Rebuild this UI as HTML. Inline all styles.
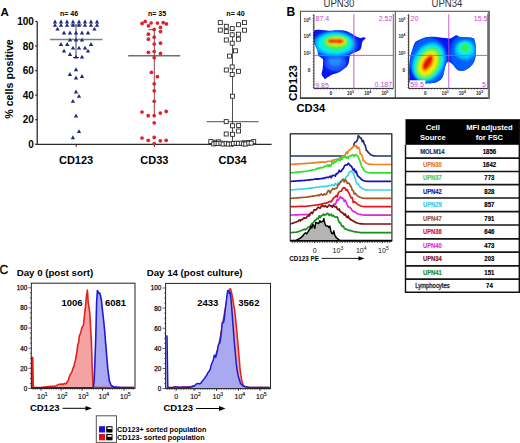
<!DOCTYPE html>
<html><head><meta charset="utf-8"><style>
html,body{margin:0;padding:0;background:#fff;overflow:hidden;}
svg{display:block;}
text{font-family:"Liberation Sans",sans-serif;}
.b{font-weight:bold;}
.r{font-weight:normal;}
</style></head><body>
<svg width="520" height="443" viewBox="0 0 520 443">
<defs><filter id="bl" x="-20%" y="-20%" width="140%" height="140%"><feGaussianBlur stdDeviation="1.0"/></filter></defs>
<rect width="520" height="443" fill="#fff"/>
<text x="0.4" y="15.7" class="b" font-size="11.6">A</text>
<line x1="37.2" y1="21.4" x2="37.2" y2="144.9" stroke="#2a2a2a" stroke-width="1.3"/>
<line x1="36.6" y1="144.3" x2="271.6" y2="144.3" stroke="#2a2a2a" stroke-width="1.3"/>
<line x1="35.2" y1="144.3" x2="37.2" y2="144.3" stroke="#2a2a2a" stroke-width="1.2"/>
<text x="33.9" y="147.9" class="b" font-size="10" text-anchor="end">0</text>
<line x1="35.2" y1="119.72" x2="37.2" y2="119.72" stroke="#2a2a2a" stroke-width="1.2"/>
<text x="33.9" y="123.32" class="b" font-size="10" text-anchor="end">20</text>
<line x1="35.2" y1="95.14" x2="37.2" y2="95.14" stroke="#2a2a2a" stroke-width="1.2"/>
<text x="33.9" y="98.74" class="b" font-size="10" text-anchor="end">40</text>
<line x1="35.2" y1="70.56" x2="37.2" y2="70.56" stroke="#2a2a2a" stroke-width="1.2"/>
<text x="33.9" y="74.16" class="b" font-size="10" text-anchor="end">60</text>
<line x1="35.2" y1="45.98" x2="37.2" y2="45.98" stroke="#2a2a2a" stroke-width="1.2"/>
<text x="33.9" y="49.58" class="b" font-size="10" text-anchor="end">80</text>
<line x1="35.2" y1="21.4" x2="37.2" y2="21.4" stroke="#2a2a2a" stroke-width="1.2"/>
<text x="33.9" y="25" class="b" font-size="10" text-anchor="end">100</text>
<text transform="translate(12.8,79) rotate(-90)" class="b" font-size="10.7" text-anchor="middle">% cells positive</text>
<line x1="76.2" y1="144.3" x2="76.2" y2="146.8" stroke="#2a2a2a" stroke-width="1.1"/>
<line x1="154.4" y1="144.3" x2="154.4" y2="146.8" stroke="#2a2a2a" stroke-width="1.1"/>
<line x1="232.5" y1="144.3" x2="232.5" y2="146.8" stroke="#2a2a2a" stroke-width="1.1"/>
<text x="76.1" y="163.8" class="b" font-size="11" text-anchor="middle">CD123</text>
<text x="154.4" y="163.8" class="b" font-size="11" text-anchor="middle">CD33</text>
<text x="232.6" y="163.8" class="b" font-size="11" text-anchor="middle">CD34</text>
<text x="59.9" y="16.4" class="b" font-size="7.1">n= 46</text>
<text x="147.9" y="16.4" class="b" font-size="7.1">n= 35</text>
<text x="226.3" y="16.4" class="b" font-size="7.1">n= 40</text>
<line x1="50" y1="39.5" x2="102.5" y2="39.5" stroke="#808080" stroke-width="1.4"/>
<line x1="128.2" y1="55.8" x2="180.3" y2="55.8" stroke="#707070" stroke-width="1.4"/>
<line x1="206.7" y1="121.6" x2="258.5" y2="121.6" stroke="#707070" stroke-width="1.4"/>
<path d="M76 25V57.5M70.5 25H82M73 57.5H79" stroke="#1c2a78" stroke-width="0.9" fill="none"/>
<path d="M154.3 29.7V115.7M148.5 29.7H155" stroke="#8a3030" stroke-width="0.9" fill="none"/>
<path d="M232.5 32V144" stroke="#222" stroke-width="0.8" fill="none"/>
<path d="M55 19.6L57.15 23.5L52.85 23.5Z" fill="#1c2a78"/>
<path d="M61 19.6L63.15 23.5L58.85 23.5Z" fill="#1c2a78"/>
<path d="M67 19.6L69.15 23.5L64.85 23.5Z" fill="#1c2a78"/>
<path d="M73 19.6L75.15 23.5L70.85 23.5Z" fill="#1c2a78"/>
<path d="M79 19.6L81.15 23.5L76.85 23.5Z" fill="#1c2a78"/>
<path d="M85 19.6L87.15 23.5L82.85 23.5Z" fill="#1c2a78"/>
<path d="M91 19.6L93.15 23.5L88.85 23.5Z" fill="#1c2a78"/>
<path d="M97 19.6L99.15 23.5L94.85 23.5Z" fill="#1c2a78"/>
<path d="M55 22.9L57.15 26.8L52.85 26.8Z" fill="#1c2a78"/>
<path d="M61 22.9L63.15 26.8L58.85 26.8Z" fill="#1c2a78"/>
<path d="M67 22.9L69.15 26.8L64.85 26.8Z" fill="#1c2a78"/>
<path d="M73 22.9L75.15 26.8L70.85 26.8Z" fill="#1c2a78"/>
<path d="M79 22.9L81.15 26.8L76.85 26.8Z" fill="#1c2a78"/>
<path d="M85 22.9L87.15 26.8L82.85 26.8Z" fill="#1c2a78"/>
<path d="M91 22.9L93.15 26.8L88.85 26.8Z" fill="#1c2a78"/>
<path d="M97 22.9L99.15 26.8L94.85 26.8Z" fill="#1c2a78"/>
<path d="M57.5 26.7L59.65 30.6L55.35 30.6Z" fill="#1c2a78"/>
<path d="M94.4 26.7L96.55 30.6L92.25 30.6Z" fill="#1c2a78"/>
<path d="M64 30.6L66.15 34.5L61.85 34.5Z" fill="#1c2a78"/>
<path d="M70 30.6L72.15 34.5L67.85 34.5Z" fill="#1c2a78"/>
<path d="M76 30.6L78.15 34.5L73.85 34.5Z" fill="#1c2a78"/>
<path d="M82 30.6L84.15 34.5L79.85 34.5Z" fill="#1c2a78"/>
<path d="M88 30.6L90.15 34.5L85.85 34.5Z" fill="#1c2a78"/>
<path d="M70 37.7L72.15 41.6L67.85 41.6Z" fill="#1c2a78"/>
<path d="M76 37.7L78.15 41.6L73.85 41.6Z" fill="#1c2a78"/>
<path d="M82 37.7L84.15 41.6L79.85 41.6Z" fill="#1c2a78"/>
<path d="M61 42.1L63.15 46L58.85 46Z" fill="#1c2a78"/>
<path d="M67.2 42.1L69.35 46L65.05 46Z" fill="#1c2a78"/>
<path d="M91 42.1L93.15 46L88.85 46Z" fill="#1c2a78"/>
<path d="M73 45.7L75.15 49.6L70.85 49.6Z" fill="#1c2a78"/>
<path d="M79 45.7L81.15 49.6L76.85 49.6Z" fill="#1c2a78"/>
<path d="M85 45.7L87.15 49.6L82.85 49.6Z" fill="#1c2a78"/>
<path d="M64 48.7L66.15 52.6L61.85 52.6Z" fill="#1c2a78"/>
<path d="M88 48.7L90.15 52.6L85.85 52.6Z" fill="#1c2a78"/>
<path d="M70 52.1L72.15 56L67.85 56Z" fill="#1c2a78"/>
<path d="M76 54.7L78.15 58.6L73.85 58.6Z" fill="#1c2a78"/>
<path d="M82 54.7L84.15 58.6L79.85 58.6Z" fill="#1c2a78"/>
<path d="M76 67.3L78.15 71.2L73.85 71.2Z" fill="#1c2a78"/>
<path d="M69.9 72L72.05 75.9L67.75 75.9Z" fill="#1c2a78"/>
<path d="M76 75.6L78.15 79.5L73.85 79.5Z" fill="#1c2a78"/>
<path d="M82 74L84.15 77.9L79.85 77.9Z" fill="#1c2a78"/>
<path d="M76 89.6L78.15 93.5L73.85 93.5Z" fill="#1c2a78"/>
<path d="M79 93.9L81.15 97.8L76.85 97.8Z" fill="#1c2a78"/>
<path d="M72.9 98.9L75.05 102.8L70.75 102.8Z" fill="#1c2a78"/>
<path d="M76 113.6L78.15 117.5L73.85 117.5Z" fill="#1c2a78"/>
<path d="M79 129.2L81.15 133.1L76.85 133.1Z" fill="#1c2a78"/>
<path d="M72.9 135.3L75.05 139.2L70.75 139.2Z" fill="#1c2a78"/>
<circle cx="142.1" cy="23.4" r="1.85" fill="#e0202a"/>
<circle cx="145.2" cy="21.4" r="1.85" fill="#e0202a"/>
<circle cx="148.4" cy="25.8" r="1.85" fill="#e0202a"/>
<circle cx="151.1" cy="23" r="1.85" fill="#e0202a"/>
<circle cx="157.4" cy="23" r="1.85" fill="#e0202a"/>
<circle cx="163.2" cy="22.6" r="1.85" fill="#e0202a"/>
<circle cx="166.4" cy="23.9" r="1.85" fill="#e0202a"/>
<circle cx="160.5" cy="27.4" r="1.85" fill="#e0202a"/>
<circle cx="154.2" cy="29.4" r="1.85" fill="#e0202a"/>
<circle cx="160.5" cy="31.6" r="1.85" fill="#e0202a"/>
<circle cx="148.4" cy="34.2" r="1.85" fill="#e0202a"/>
<circle cx="148.4" cy="39.2" r="1.85" fill="#e0202a"/>
<circle cx="154.2" cy="37.2" r="1.85" fill="#e0202a"/>
<circle cx="154.2" cy="44" r="1.85" fill="#e0202a"/>
<circle cx="160.5" cy="43.2" r="1.85" fill="#e0202a"/>
<circle cx="148.4" cy="52.3" r="1.85" fill="#e0202a"/>
<circle cx="154.2" cy="51.5" r="1.85" fill="#e0202a"/>
<circle cx="160.5" cy="53.4" r="1.85" fill="#e0202a"/>
<circle cx="154.2" cy="57.7" r="1.85" fill="#e0202a"/>
<circle cx="151.4" cy="72.4" r="1.85" fill="#e0202a"/>
<circle cx="157.4" cy="76.7" r="1.85" fill="#e0202a"/>
<circle cx="154.2" cy="83.8" r="1.85" fill="#e0202a"/>
<circle cx="154.2" cy="90.8" r="1.85" fill="#e0202a"/>
<circle cx="154.2" cy="101.3" r="1.85" fill="#e0202a"/>
<circle cx="142" cy="112" r="1.85" fill="#e0202a"/>
<circle cx="148.2" cy="115.7" r="1.85" fill="#e0202a"/>
<circle cx="154.2" cy="115.7" r="1.85" fill="#e0202a"/>
<circle cx="160.3" cy="113.1" r="1.85" fill="#e0202a"/>
<circle cx="166.2" cy="111.4" r="1.85" fill="#e0202a"/>
<circle cx="154.2" cy="122.8" r="1.85" fill="#e0202a"/>
<circle cx="142" cy="138" r="1.85" fill="#e0202a"/>
<circle cx="148.2" cy="140.3" r="1.85" fill="#e0202a"/>
<circle cx="154.2" cy="137.4" r="1.85" fill="#e0202a"/>
<circle cx="160.3" cy="140.8" r="1.85" fill="#e0202a"/>
<circle cx="166.2" cy="140.3" r="1.85" fill="#e0202a"/>
<circle cx="154.2" cy="143.6" r="1.85" fill="#e0202a"/>
<rect x="218.3" y="20.6" width="4" height="4" fill="#fff" stroke="#222" stroke-width="0.85"/>
<rect x="224.3" y="24.3" width="4" height="4" fill="#fff" stroke="#222" stroke-width="0.85"/>
<rect x="230.2" y="26.6" width="4" height="4" fill="#fff" stroke="#222" stroke-width="0.85"/>
<rect x="236.5" y="22.7" width="4" height="4" fill="#fff" stroke="#222" stroke-width="0.85"/>
<rect x="242.5" y="20.6" width="4" height="4" fill="#fff" stroke="#222" stroke-width="0.85"/>
<rect x="218.3" y="28.1" width="4" height="4" fill="#fff" stroke="#222" stroke-width="0.85"/>
<rect x="224.3" y="29.6" width="4" height="4" fill="#fff" stroke="#222" stroke-width="0.85"/>
<rect x="242.5" y="28.2" width="4" height="4" fill="#fff" stroke="#222" stroke-width="0.85"/>
<rect x="230.2" y="32.8" width="4" height="4" fill="#fff" stroke="#222" stroke-width="0.85"/>
<rect x="236.5" y="32.2" width="4" height="4" fill="#fff" stroke="#222" stroke-width="0.85"/>
<rect x="224.3" y="38" width="4" height="4" fill="#fff" stroke="#222" stroke-width="0.85"/>
<rect x="236.5" y="37.2" width="4" height="4" fill="#fff" stroke="#222" stroke-width="0.85"/>
<rect x="230.2" y="41.2" width="4" height="4" fill="#fff" stroke="#222" stroke-width="0.85"/>
<rect x="233.5" y="48.8" width="4" height="4" fill="#fff" stroke="#222" stroke-width="0.85"/>
<rect x="227.5" y="54.1" width="4" height="4" fill="#fff" stroke="#222" stroke-width="0.85"/>
<rect x="230.2" y="64.9" width="4" height="4" fill="#fff" stroke="#222" stroke-width="0.85"/>
<rect x="224.3" y="68" width="4" height="4" fill="#fff" stroke="#222" stroke-width="0.85"/>
<rect x="236.5" y="69.3" width="4" height="4" fill="#fff" stroke="#222" stroke-width="0.85"/>
<rect x="230.2" y="72.5" width="4" height="4" fill="#fff" stroke="#222" stroke-width="0.85"/>
<rect x="230.5" y="94.2" width="4" height="4" fill="#fff" stroke="#222" stroke-width="0.85"/>
<rect x="224.2" y="119.6" width="4" height="4" fill="#fff" stroke="#222" stroke-width="0.85"/>
<rect x="230.5" y="123.8" width="4" height="4" fill="#fff" stroke="#222" stroke-width="0.85"/>
<rect x="236.6" y="123.5" width="4" height="4" fill="#fff" stroke="#222" stroke-width="0.85"/>
<rect x="236.6" y="129" width="4" height="4" fill="#fff" stroke="#222" stroke-width="0.85"/>
<rect x="224.2" y="132" width="4" height="4" fill="#fff" stroke="#222" stroke-width="0.85"/>
<rect x="230.5" y="132.3" width="4" height="4" fill="#fff" stroke="#222" stroke-width="0.85"/>
<rect x="208.8" y="139.6" width="4" height="4" fill="#fff" stroke="#222" stroke-width="0.85"/>
<rect x="213.8" y="140.2" width="4" height="4" fill="#fff" stroke="#222" stroke-width="0.85"/>
<rect x="216.6" y="139.9" width="4" height="4" fill="#fff" stroke="#222" stroke-width="0.85"/>
<rect x="251.7" y="139.6" width="4" height="4" fill="#fff" stroke="#222" stroke-width="0.85"/>
<rect x="246.6" y="140.6" width="4" height="4" fill="#fff" stroke="#222" stroke-width="0.85"/>
<rect x="242.5" y="140.8" width="4" height="4" fill="#fff" stroke="#222" stroke-width="0.85"/>
<rect x="211.74" y="141.91" width="4" height="4" fill="#fff" stroke="#222" stroke-width="0.85"/>
<rect x="214.01" y="141.39" width="4" height="4" fill="#fff" stroke="#222" stroke-width="0.85"/>
<rect x="216.14" y="141.48" width="4" height="4" fill="#fff" stroke="#222" stroke-width="0.85"/>
<rect x="218.93" y="141.15" width="4" height="4" fill="#fff" stroke="#222" stroke-width="0.85"/>
<rect x="221.14" y="142.1" width="4" height="4" fill="#fff" stroke="#222" stroke-width="0.85"/>
<rect x="224.12" y="141.33" width="4" height="4" fill="#fff" stroke="#222" stroke-width="0.85"/>
<rect x="226.45" y="142.07" width="4" height="4" fill="#fff" stroke="#222" stroke-width="0.85"/>
<rect x="229.32" y="141.94" width="4" height="4" fill="#fff" stroke="#222" stroke-width="0.85"/>
<rect x="231.41" y="141.59" width="4" height="4" fill="#fff" stroke="#222" stroke-width="0.85"/>
<rect x="234.14" y="141.16" width="4" height="4" fill="#fff" stroke="#222" stroke-width="0.85"/>
<rect x="236.54" y="141.37" width="4" height="4" fill="#fff" stroke="#222" stroke-width="0.85"/>
<rect x="239.3" y="141.16" width="4" height="4" fill="#fff" stroke="#222" stroke-width="0.85"/>
<rect x="241.64" y="141.97" width="4" height="4" fill="#fff" stroke="#222" stroke-width="0.85"/>
<rect x="243.78" y="142" width="4" height="4" fill="#fff" stroke="#222" stroke-width="0.85"/>
<rect x="246.8" y="141.12" width="4" height="4" fill="#fff" stroke="#222" stroke-width="0.85"/>
<rect x="249.17" y="141.1" width="4" height="4" fill="#fff" stroke="#222" stroke-width="0.85"/>
<text x="286.4" y="15.7" class="b" font-size="12">B</text>
<text transform="translate(339,6.8) scale(1,1.15)" class="r" font-size="9.6" fill="#333" text-anchor="middle">UPN30</text>
<text transform="translate(447,6.8) scale(1,1.15)" class="r" font-size="9.6" fill="#333" text-anchor="middle">UPN34</text>
<rect x="300.5" y="11.3" width="188.3" height="86.8" fill="#fff" stroke="#555" stroke-width="1.1"/>
<line x1="395.3" y1="11" x2="395.3" y2="98.4" stroke="#555" stroke-width="1.1"/>
<line x1="300" y1="98.1" x2="489.5" y2="98.1" stroke="#222" stroke-width="1.3"/>
<line x1="488.9" y1="10.8" x2="488.9" y2="98.6" stroke="#777" stroke-width="2.2"/>
<text transform="translate(297.3,83) rotate(-90)" class="b" font-size="11.6" text-anchor="middle">CD123</text>
<text x="296.5" y="111.8" class="b" font-size="11.2">CD34</text>
<clipPath id="cb1"><path d="M314.2 30.9C315.75 28.93 320.87 30.22 323.5 30.2C326.13 30.18 327.73 30.8 330 30.8C332.27 30.8 334.57 30.2 337.1 30.2C339.63 30.2 342.95 30.32 345.2 30.8C347.45 31.28 349.02 32.27 350.6 33.1C352.18 33.93 353.12 35 354.7 35.8C356.28 36.6 358.52 37.65 360.1 37.9C361.68 38.15 363.27 37.18 364.2 37.3C365.13 37.42 365.82 38.12 365.7 38.6C365.58 39.08 364.1 39.53 363.5 40.2C362.9 40.87 362.43 41.52 362.1 42.6C361.77 43.68 361.85 45.47 361.5 46.7C361.15 47.93 360.72 49.22 360 50C359.28 50.78 358.32 50.92 357.2 51.4C356.08 51.88 354.42 52.33 353.3 52.9C352.18 53.47 351.13 54 350.5 54.8C349.87 55.6 349.75 56.58 349.5 57.7C349.25 58.82 349.32 60.22 349 61.5C348.68 62.78 348.32 64.27 347.6 65.4C346.88 66.53 345.83 67.33 344.7 68.3C343.57 69.27 342.25 70.32 340.8 71.2C339.35 72.08 337.6 72.97 336 73.6C334.4 74.23 332.95 74.13 331.2 75C329.45 75.87 326.7 78.3 325.5 78.8C324.3 79.3 324.65 78.8 324 78C323.35 77.2 321.83 75.47 321.6 74C321.37 72.53 322.37 70.8 322.6 69.2C322.83 67.6 322.93 66 323 64.4C323.07 62.8 323.42 60.8 323 59.6C322.58 58.4 321.3 57.93 320.5 57.2C319.7 56.47 318.68 56.32 318.2 55.2C317.72 54.08 318.05 52.03 317.6 50.5C317.15 48.97 316.07 47.42 315.5 46C314.93 44.58 314.42 44.52 314.2 42C313.98 39.48 312.65 32.87 314.2 30.9Z"/></clipPath>
<path d="M314.2 30.9C315.75 28.93 320.87 30.22 323.5 30.2C326.13 30.18 327.73 30.8 330 30.8C332.27 30.8 334.57 30.2 337.1 30.2C339.63 30.2 342.95 30.32 345.2 30.8C347.45 31.28 349.02 32.27 350.6 33.1C352.18 33.93 353.12 35 354.7 35.8C356.28 36.6 358.52 37.65 360.1 37.9C361.68 38.15 363.27 37.18 364.2 37.3C365.13 37.42 365.82 38.12 365.7 38.6C365.58 39.08 364.1 39.53 363.5 40.2C362.9 40.87 362.43 41.52 362.1 42.6C361.77 43.68 361.85 45.47 361.5 46.7C361.15 47.93 360.72 49.22 360 50C359.28 50.78 358.32 50.92 357.2 51.4C356.08 51.88 354.42 52.33 353.3 52.9C352.18 53.47 351.13 54 350.5 54.8C349.87 55.6 349.75 56.58 349.5 57.7C349.25 58.82 349.32 60.22 349 61.5C348.68 62.78 348.32 64.27 347.6 65.4C346.88 66.53 345.83 67.33 344.7 68.3C343.57 69.27 342.25 70.32 340.8 71.2C339.35 72.08 337.6 72.97 336 73.6C334.4 74.23 332.95 74.13 331.2 75C329.45 75.87 326.7 78.3 325.5 78.8C324.3 79.3 324.65 78.8 324 78C323.35 77.2 321.83 75.47 321.6 74C321.37 72.53 322.37 70.8 322.6 69.2C322.83 67.6 322.93 66 323 64.4C323.07 62.8 323.42 60.8 323 59.6C322.58 58.4 321.3 57.93 320.5 57.2C319.7 56.47 318.68 56.32 318.2 55.2C317.72 54.08 318.05 52.03 317.6 50.5C317.15 48.97 316.07 47.42 315.5 46C314.93 44.58 314.42 44.52 314.2 42C313.98 39.48 312.65 32.87 314.2 30.9Z" fill="#0a14f0"/>
<g clip-path="url(#cb1)" filter="url(#bl)">
<ellipse cx="335.5" cy="62.5" rx="11" ry="9" fill="#1c58ff"/>
<ellipse cx="335" cy="61" rx="6.5" ry="5" fill="#2a88ff"/>
<g transform="translate(0,0) rotate(0)"><ellipse cx="334.5" cy="44.6" rx="23.0" ry="14.0" fill="#0060ff"/><ellipse cx="334.6" cy="43.9" rx="19.8" ry="11.8" fill="#00b4ff"/><ellipse cx="335.0" cy="43.5" rx="17.2" ry="10.3" fill="#00f0f0"/><ellipse cx="336" cy="42.6" rx="12.8" ry="7.8" fill="#30f050"/><ellipse cx="336.2" cy="41.8" rx="10.6" ry="4.8" fill="#b0f020"/><ellipse cx="336.3" cy="41.3" rx="9.6" ry="3.5" fill="#fff000"/><ellipse cx="336.2" cy="41.2" rx="8.4" ry="2.6" fill="#ff9000"/></g>
<ellipse cx="331.8" cy="41.1" rx="4.3" ry="2.1" fill="#e81000"/>
<ellipse cx="339.6" cy="41.3" rx="3.6" ry="2.1" fill="#e81000"/>
</g>
<clipPath id="cb2"><path d="M409.4 76C409.48 78.13 408.6 81.53 409.7 82.8C410.8 84.07 413.4 83.48 416 83.6C418.6 83.72 422.17 83.63 425.3 83.5C428.43 83.37 432.32 83.37 434.8 82.8C437.28 82.23 438.83 81.23 440.2 80.1C441.57 78.97 442.32 77.57 443 76C443.68 74.43 443.87 72.5 444.3 70.7C444.73 68.9 445.15 66.57 445.6 65.2C446.05 63.83 446.53 63.07 447 62.5C447.47 61.93 447.82 61.78 448.4 61.8C448.98 61.82 449.6 61.93 450.5 62.6C451.4 63.27 452.8 64.73 453.8 65.8C454.8 66.87 455.47 68.17 456.5 69C457.53 69.83 458.58 70.6 460 70.8C461.42 71 463.33 70.83 465 70.2C466.67 69.57 468.58 68.23 470 67C471.42 65.77 472.58 64.53 473.5 62.8C474.42 61.07 475.13 59.32 475.5 56.6C475.87 53.88 475.85 49.2 475.7 46.5C475.55 43.8 475.02 41.78 474.6 40.4C474.18 39.02 474.63 38.72 473.2 38.2C471.77 37.68 468.2 37.5 466 37.3C463.8 37.1 461.58 37.33 460 37C458.42 36.67 457.5 35.38 456.5 35.3C455.5 35.22 455.12 35.95 454 36.5C452.88 37.05 451.2 38.33 449.8 38.6C448.4 38.87 447.2 38.28 445.6 38.1C444 37.92 442.45 37.72 440.2 37.5C437.95 37.28 434.58 36.8 432.1 36.8C429.62 36.8 427.57 36.93 425.3 37.5C423.03 38.07 420.3 39.2 418.5 40.2C416.7 41.2 415.85 40.68 414.5 43.5C413.15 46.32 411.28 52.68 410.4 57.1C409.52 61.52 409.37 66.85 409.2 70C409.03 73.15 409.32 73.87 409.4 76Z"/></clipPath>
<path d="M409.4 76C409.48 78.13 408.6 81.53 409.7 82.8C410.8 84.07 413.4 83.48 416 83.6C418.6 83.72 422.17 83.63 425.3 83.5C428.43 83.37 432.32 83.37 434.8 82.8C437.28 82.23 438.83 81.23 440.2 80.1C441.57 78.97 442.32 77.57 443 76C443.68 74.43 443.87 72.5 444.3 70.7C444.73 68.9 445.15 66.57 445.6 65.2C446.05 63.83 446.53 63.07 447 62.5C447.47 61.93 447.82 61.78 448.4 61.8C448.98 61.82 449.6 61.93 450.5 62.6C451.4 63.27 452.8 64.73 453.8 65.8C454.8 66.87 455.47 68.17 456.5 69C457.53 69.83 458.58 70.6 460 70.8C461.42 71 463.33 70.83 465 70.2C466.67 69.57 468.58 68.23 470 67C471.42 65.77 472.58 64.53 473.5 62.8C474.42 61.07 475.13 59.32 475.5 56.6C475.87 53.88 475.85 49.2 475.7 46.5C475.55 43.8 475.02 41.78 474.6 40.4C474.18 39.02 474.63 38.72 473.2 38.2C471.77 37.68 468.2 37.5 466 37.3C463.8 37.1 461.58 37.33 460 37C458.42 36.67 457.5 35.38 456.5 35.3C455.5 35.22 455.12 35.95 454 36.5C452.88 37.05 451.2 38.33 449.8 38.6C448.4 38.87 447.2 38.28 445.6 38.1C444 37.92 442.45 37.72 440.2 37.5C437.95 37.28 434.58 36.8 432.1 36.8C429.62 36.8 427.57 36.93 425.3 37.5C423.03 38.07 420.3 39.2 418.5 40.2C416.7 41.2 415.85 40.68 414.5 43.5C413.15 46.32 411.28 52.68 410.4 57.1C409.52 61.52 409.37 66.85 409.2 70C409.03 73.15 409.32 73.87 409.4 76Z" fill="#0a14f0"/>
<g clip-path="url(#cb2)" filter="url(#bl)">
<ellipse cx="464.5" cy="53" rx="14.5" ry="19" fill="#0060ff"/>
<ellipse cx="465" cy="50" rx="10.5" ry="10" fill="#00b4ff"/>
<ellipse cx="465" cy="49" rx="8" ry="7.6" fill="#00f0f0"/>
<ellipse cx="465" cy="48" rx="5" ry="4.2" fill="#30f050"/>
<ellipse cx="428.5" cy="61" rx="19" ry="24" fill="#0060ff"/>
<ellipse cx="0" cy="0" rx="20.5" ry="15" fill="#00b4ff" transform="translate(428.5,62) rotate(-62)"/>
<ellipse cx="0" cy="0" rx="19" ry="13.8" fill="#00f0f0" transform="translate(428.5,62.5) rotate(-62)"/>
<ellipse cx="0" cy="0" rx="17" ry="11.5" fill="#30f050" transform="translate(428.3,63.3) rotate(-62)"/>
<ellipse cx="0" cy="0" rx="14.5" ry="9.5" fill="#b0f020" transform="translate(428,63.5) rotate(-62)"/>
<ellipse cx="0" cy="0" rx="12" ry="7.6" fill="#fff000" transform="translate(428,63.3) rotate(-62)"/>
<ellipse cx="0" cy="0" rx="9.2" ry="4.8" fill="#ff9000" transform="translate(427.8,63) rotate(-62)"/>
<g transform="translate(427.6,62.5) rotate(-58)"><ellipse cx="0" cy="0" rx="8.6" ry="3.6" fill="#e81000"/></g>
</g>
<rect x="409.6" y="80.3" width="15.7" height="7.5" fill="#fff"/>
<rect x="314.6" y="80.8" width="10" height="7" fill="#fff"/>
<line x1="313.9" y1="14.3" x2="313.9" y2="88.4" stroke="#111" stroke-width="0.9"/>
<line x1="313.9" y1="88.4" x2="393.3" y2="88.4" stroke="#111" stroke-width="0.9"/>
<line x1="393.3" y1="13.9" x2="393.3" y2="88.4" stroke="#555" stroke-width="0.9"/>
<line x1="312.7" y1="15.5" x2="313.9" y2="15.5" stroke="#222" stroke-width="0.6"/>
<line x1="312.7" y1="18.38" x2="313.9" y2="18.38" stroke="#222" stroke-width="0.6"/>
<line x1="312.7" y1="21.26" x2="313.9" y2="21.26" stroke="#222" stroke-width="0.6"/>
<line x1="312.7" y1="24.14" x2="313.9" y2="24.14" stroke="#222" stroke-width="0.6"/>
<line x1="312.7" y1="27.02" x2="313.9" y2="27.02" stroke="#222" stroke-width="0.6"/>
<line x1="312.7" y1="29.9" x2="313.9" y2="29.9" stroke="#222" stroke-width="0.6"/>
<line x1="312.7" y1="32.78" x2="313.9" y2="32.78" stroke="#222" stroke-width="0.6"/>
<line x1="312.7" y1="35.66" x2="313.9" y2="35.66" stroke="#222" stroke-width="0.6"/>
<line x1="312.7" y1="38.54" x2="313.9" y2="38.54" stroke="#222" stroke-width="0.6"/>
<line x1="312.7" y1="41.42" x2="313.9" y2="41.42" stroke="#222" stroke-width="0.6"/>
<line x1="312.7" y1="44.3" x2="313.9" y2="44.3" stroke="#222" stroke-width="0.6"/>
<line x1="312.7" y1="47.18" x2="313.9" y2="47.18" stroke="#222" stroke-width="0.6"/>
<line x1="312.7" y1="50.06" x2="313.9" y2="50.06" stroke="#222" stroke-width="0.6"/>
<line x1="312.7" y1="52.94" x2="313.9" y2="52.94" stroke="#222" stroke-width="0.6"/>
<line x1="312.7" y1="55.82" x2="313.9" y2="55.82" stroke="#222" stroke-width="0.6"/>
<line x1="312.7" y1="58.7" x2="313.9" y2="58.7" stroke="#222" stroke-width="0.6"/>
<line x1="312.7" y1="61.58" x2="313.9" y2="61.58" stroke="#222" stroke-width="0.6"/>
<line x1="312.7" y1="64.46" x2="313.9" y2="64.46" stroke="#222" stroke-width="0.6"/>
<line x1="312.7" y1="67.34" x2="313.9" y2="67.34" stroke="#222" stroke-width="0.6"/>
<line x1="312.7" y1="70.22" x2="313.9" y2="70.22" stroke="#222" stroke-width="0.6"/>
<line x1="312.7" y1="73.1" x2="313.9" y2="73.1" stroke="#222" stroke-width="0.6"/>
<line x1="312.7" y1="75.98" x2="313.9" y2="75.98" stroke="#222" stroke-width="0.6"/>
<line x1="312.7" y1="78.86" x2="313.9" y2="78.86" stroke="#222" stroke-width="0.6"/>
<line x1="312.7" y1="81.74" x2="313.9" y2="81.74" stroke="#222" stroke-width="0.6"/>
<line x1="312.7" y1="84.62" x2="313.9" y2="84.62" stroke="#222" stroke-width="0.6"/>
<line x1="312.7" y1="87.5" x2="313.9" y2="87.5" stroke="#222" stroke-width="0.6"/>
<line x1="314.9" y1="88.4" x2="314.9" y2="89.6" stroke="#222" stroke-width="0.6"/>
<line x1="318" y1="88.4" x2="318" y2="89.6" stroke="#222" stroke-width="0.6"/>
<line x1="321.09" y1="88.4" x2="321.09" y2="89.6" stroke="#222" stroke-width="0.6"/>
<line x1="324.19" y1="88.4" x2="324.19" y2="89.6" stroke="#222" stroke-width="0.6"/>
<line x1="327.28" y1="88.4" x2="327.28" y2="89.6" stroke="#222" stroke-width="0.6"/>
<line x1="330.38" y1="88.4" x2="330.38" y2="89.6" stroke="#222" stroke-width="0.6"/>
<line x1="333.48" y1="88.4" x2="333.48" y2="89.6" stroke="#222" stroke-width="0.6"/>
<line x1="336.57" y1="88.4" x2="336.57" y2="89.6" stroke="#222" stroke-width="0.6"/>
<line x1="339.67" y1="88.4" x2="339.67" y2="89.6" stroke="#222" stroke-width="0.6"/>
<line x1="342.76" y1="88.4" x2="342.76" y2="89.6" stroke="#222" stroke-width="0.6"/>
<line x1="345.86" y1="88.4" x2="345.86" y2="89.6" stroke="#222" stroke-width="0.6"/>
<line x1="348.96" y1="88.4" x2="348.96" y2="89.6" stroke="#222" stroke-width="0.6"/>
<line x1="352.05" y1="88.4" x2="352.05" y2="89.6" stroke="#222" stroke-width="0.6"/>
<line x1="355.15" y1="88.4" x2="355.15" y2="89.6" stroke="#222" stroke-width="0.6"/>
<line x1="358.24" y1="88.4" x2="358.24" y2="89.6" stroke="#222" stroke-width="0.6"/>
<line x1="361.34" y1="88.4" x2="361.34" y2="89.6" stroke="#222" stroke-width="0.6"/>
<line x1="364.44" y1="88.4" x2="364.44" y2="89.6" stroke="#222" stroke-width="0.6"/>
<line x1="367.53" y1="88.4" x2="367.53" y2="89.6" stroke="#222" stroke-width="0.6"/>
<line x1="370.63" y1="88.4" x2="370.63" y2="89.6" stroke="#222" stroke-width="0.6"/>
<line x1="373.72" y1="88.4" x2="373.72" y2="89.6" stroke="#222" stroke-width="0.6"/>
<line x1="376.82" y1="88.4" x2="376.82" y2="89.6" stroke="#222" stroke-width="0.6"/>
<line x1="379.92" y1="88.4" x2="379.92" y2="89.6" stroke="#222" stroke-width="0.6"/>
<line x1="383.01" y1="88.4" x2="383.01" y2="89.6" stroke="#222" stroke-width="0.6"/>
<line x1="386.11" y1="88.4" x2="386.11" y2="89.6" stroke="#222" stroke-width="0.6"/>
<line x1="389.2" y1="88.4" x2="389.2" y2="89.6" stroke="#222" stroke-width="0.6"/>
<line x1="392.3" y1="88.4" x2="392.3" y2="89.6" stroke="#222" stroke-width="0.6"/>
<text x="303.6" y="21.5" font-size="4.6" class="b" fill="#222">10<tspan font-size="3.4" dy="-1.8">5</tspan></text>
<text x="303.6" y="38.2" font-size="4.6" class="b" fill="#222">10<tspan font-size="3.4" dy="-1.8">4</tspan></text>
<text x="303.6" y="55.4" font-size="4.6" class="b" fill="#222">10<tspan font-size="3.4" dy="-1.8">3</tspan></text>
<text x="307.7" y="72.2" font-size="4.8" class="b" fill="#222">0</text>
<text x="330.8" y="95" font-size="4.8" class="b" fill="#222" text-anchor="middle">0</text>
<text x="346.9" y="95" font-size="4.6" class="b" fill="#222">10<tspan font-size="3.4" dy="-1.8">3</tspan></text>
<text x="364.2" y="95" font-size="4.6" class="b" fill="#222">10<tspan font-size="3.4" dy="-1.8">4</tspan></text>
<text x="381.4" y="95" font-size="4.6" class="b" fill="#222">10<tspan font-size="3.4" dy="-1.8">5</tspan></text>
<line x1="408.7" y1="14.3" x2="408.7" y2="88.4" stroke="#111" stroke-width="0.9"/>
<line x1="408.7" y1="88.4" x2="487.8" y2="88.4" stroke="#111" stroke-width="0.9"/>
<line x1="487.8" y1="13.9" x2="487.8" y2="88.4" stroke="#555" stroke-width="0.9"/>
<line x1="407.5" y1="15.5" x2="408.7" y2="15.5" stroke="#222" stroke-width="0.6"/>
<line x1="407.5" y1="18.38" x2="408.7" y2="18.38" stroke="#222" stroke-width="0.6"/>
<line x1="407.5" y1="21.26" x2="408.7" y2="21.26" stroke="#222" stroke-width="0.6"/>
<line x1="407.5" y1="24.14" x2="408.7" y2="24.14" stroke="#222" stroke-width="0.6"/>
<line x1="407.5" y1="27.02" x2="408.7" y2="27.02" stroke="#222" stroke-width="0.6"/>
<line x1="407.5" y1="29.9" x2="408.7" y2="29.9" stroke="#222" stroke-width="0.6"/>
<line x1="407.5" y1="32.78" x2="408.7" y2="32.78" stroke="#222" stroke-width="0.6"/>
<line x1="407.5" y1="35.66" x2="408.7" y2="35.66" stroke="#222" stroke-width="0.6"/>
<line x1="407.5" y1="38.54" x2="408.7" y2="38.54" stroke="#222" stroke-width="0.6"/>
<line x1="407.5" y1="41.42" x2="408.7" y2="41.42" stroke="#222" stroke-width="0.6"/>
<line x1="407.5" y1="44.3" x2="408.7" y2="44.3" stroke="#222" stroke-width="0.6"/>
<line x1="407.5" y1="47.18" x2="408.7" y2="47.18" stroke="#222" stroke-width="0.6"/>
<line x1="407.5" y1="50.06" x2="408.7" y2="50.06" stroke="#222" stroke-width="0.6"/>
<line x1="407.5" y1="52.94" x2="408.7" y2="52.94" stroke="#222" stroke-width="0.6"/>
<line x1="407.5" y1="55.82" x2="408.7" y2="55.82" stroke="#222" stroke-width="0.6"/>
<line x1="407.5" y1="58.7" x2="408.7" y2="58.7" stroke="#222" stroke-width="0.6"/>
<line x1="407.5" y1="61.58" x2="408.7" y2="61.58" stroke="#222" stroke-width="0.6"/>
<line x1="407.5" y1="64.46" x2="408.7" y2="64.46" stroke="#222" stroke-width="0.6"/>
<line x1="407.5" y1="67.34" x2="408.7" y2="67.34" stroke="#222" stroke-width="0.6"/>
<line x1="407.5" y1="70.22" x2="408.7" y2="70.22" stroke="#222" stroke-width="0.6"/>
<line x1="407.5" y1="73.1" x2="408.7" y2="73.1" stroke="#222" stroke-width="0.6"/>
<line x1="407.5" y1="75.98" x2="408.7" y2="75.98" stroke="#222" stroke-width="0.6"/>
<line x1="407.5" y1="78.86" x2="408.7" y2="78.86" stroke="#222" stroke-width="0.6"/>
<line x1="407.5" y1="81.74" x2="408.7" y2="81.74" stroke="#222" stroke-width="0.6"/>
<line x1="407.5" y1="84.62" x2="408.7" y2="84.62" stroke="#222" stroke-width="0.6"/>
<line x1="407.5" y1="87.5" x2="408.7" y2="87.5" stroke="#222" stroke-width="0.6"/>
<line x1="409.7" y1="88.4" x2="409.7" y2="89.6" stroke="#222" stroke-width="0.6"/>
<line x1="412.78" y1="88.4" x2="412.78" y2="89.6" stroke="#222" stroke-width="0.6"/>
<line x1="415.87" y1="88.4" x2="415.87" y2="89.6" stroke="#222" stroke-width="0.6"/>
<line x1="418.95" y1="88.4" x2="418.95" y2="89.6" stroke="#222" stroke-width="0.6"/>
<line x1="422.04" y1="88.4" x2="422.04" y2="89.6" stroke="#222" stroke-width="0.6"/>
<line x1="425.12" y1="88.4" x2="425.12" y2="89.6" stroke="#222" stroke-width="0.6"/>
<line x1="428.2" y1="88.4" x2="428.2" y2="89.6" stroke="#222" stroke-width="0.6"/>
<line x1="431.29" y1="88.4" x2="431.29" y2="89.6" stroke="#222" stroke-width="0.6"/>
<line x1="434.37" y1="88.4" x2="434.37" y2="89.6" stroke="#222" stroke-width="0.6"/>
<line x1="437.46" y1="88.4" x2="437.46" y2="89.6" stroke="#222" stroke-width="0.6"/>
<line x1="440.54" y1="88.4" x2="440.54" y2="89.6" stroke="#222" stroke-width="0.6"/>
<line x1="443.62" y1="88.4" x2="443.62" y2="89.6" stroke="#222" stroke-width="0.6"/>
<line x1="446.71" y1="88.4" x2="446.71" y2="89.6" stroke="#222" stroke-width="0.6"/>
<line x1="449.79" y1="88.4" x2="449.79" y2="89.6" stroke="#222" stroke-width="0.6"/>
<line x1="452.88" y1="88.4" x2="452.88" y2="89.6" stroke="#222" stroke-width="0.6"/>
<line x1="455.96" y1="88.4" x2="455.96" y2="89.6" stroke="#222" stroke-width="0.6"/>
<line x1="459.04" y1="88.4" x2="459.04" y2="89.6" stroke="#222" stroke-width="0.6"/>
<line x1="462.13" y1="88.4" x2="462.13" y2="89.6" stroke="#222" stroke-width="0.6"/>
<line x1="465.21" y1="88.4" x2="465.21" y2="89.6" stroke="#222" stroke-width="0.6"/>
<line x1="468.3" y1="88.4" x2="468.3" y2="89.6" stroke="#222" stroke-width="0.6"/>
<line x1="471.38" y1="88.4" x2="471.38" y2="89.6" stroke="#222" stroke-width="0.6"/>
<line x1="474.46" y1="88.4" x2="474.46" y2="89.6" stroke="#222" stroke-width="0.6"/>
<line x1="477.55" y1="88.4" x2="477.55" y2="89.6" stroke="#222" stroke-width="0.6"/>
<line x1="480.63" y1="88.4" x2="480.63" y2="89.6" stroke="#222" stroke-width="0.6"/>
<line x1="483.72" y1="88.4" x2="483.72" y2="89.6" stroke="#222" stroke-width="0.6"/>
<line x1="486.8" y1="88.4" x2="486.8" y2="89.6" stroke="#222" stroke-width="0.6"/>
<text x="398.4" y="21.5" font-size="4.6" class="b" fill="#222">10<tspan font-size="3.4" dy="-1.8">5</tspan></text>
<text x="398.4" y="38.2" font-size="4.6" class="b" fill="#222">10<tspan font-size="3.4" dy="-1.8">4</tspan></text>
<text x="398.4" y="55.4" font-size="4.6" class="b" fill="#222">10<tspan font-size="3.4" dy="-1.8">3</tspan></text>
<text x="402.5" y="72.2" font-size="4.8" class="b" fill="#222">0</text>
<text x="425.4" y="95" font-size="4.8" class="b" fill="#222" text-anchor="middle">0</text>
<text x="441.6" y="95" font-size="4.6" class="b" fill="#222">10<tspan font-size="3.4" dy="-1.8">3</tspan></text>
<text x="458.8" y="95" font-size="4.6" class="b" fill="#222">10<tspan font-size="3.4" dy="-1.8">4</tspan></text>
<text x="476" y="95" font-size="4.6" class="b" fill="#222">10<tspan font-size="3.4" dy="-1.8">5</tspan></text>
<path d="M353.9 14.3V88.4M313.9 55.4H393.3M448.8 14.3V88.4M408.7 55.4H487.8" stroke="#c048c8" stroke-width="0.9" fill="none"/>
<text x="315.6" y="21.2" class="r" font-size="7" fill="#c048c8" text-anchor="start">87.4</text>
<text x="392.3" y="21" class="r" font-size="7" fill="#c048c8" text-anchor="end">2.52</text>
<text x="315.2" y="87.6" class="r" font-size="7" fill="#c048c8" text-anchor="start">9.85</text>
<text x="392.1" y="87.4" class="r" font-size="7" fill="#c048c8" text-anchor="end">0.187</text>
<text x="410.5" y="21.2" class="r" font-size="7" fill="#c048c8" text-anchor="start">20</text>
<text x="487.4" y="21.2" class="r" font-size="7" fill="#c048c8" text-anchor="end">15.5</text>
<text x="410.2" y="87.4" class="r" font-size="7" fill="#c048c8" text-anchor="start">59.5</text>
<text x="486" y="87.4" class="r" font-size="7" fill="#c048c8" text-anchor="end">5</text>
<rect x="290.3" y="133.8" width="101.5" height="107" fill="#fff" stroke="#333" stroke-width="1"/>
<path d="M290.3 156 L291.3 156 L292.3 156 L293.3 156 L294.3 156 L295.3 156 L296.3 156 L297.3 156 L298.3 156 L299.3 156 L300.3 156 L301.3 156 L302.3 156 L303.3 156 L304.3 156 L305.3 156 L306.3 156 L307.3 156 L308.3 156 L309.3 156 L310.3 156 L311.3 156 L312.3 156 L313.3 156 L314.3 156 L315.3 156 L316.3 156 L317.3 156 L318.3 156 L319.3 156 L320.3 156 L321.3 156 L322.3 156 L323.3 156 L324.3 156 L325.3 156 L326.3 156 L327.3 156 L328.3 156 L329.3 156 L330.3 156 L331.3 156 L332.3 156 L333.3 156 L334.3 156 L335.3 156 L336.3 156 L337.3 156 L338.3 156 L339.3 156 L340.3 156 L341.3 156 L342.3 156 L343.3 156 L344.3 156 L345.3 155.95 L346.3 155.8 L347.3 155.41 L348.3 154.72 L349.3 153.76 L350.3 151.72 L351.3 150.98 L352.3 148.33 L353.3 148.15 L354.3 143.24 L355.3 142.15 L356.3 141.65 L357.3 140.24 L358.3 135.64 L359.3 136.82 L360.3 138.05 L361.3 138.16 L362.3 141.78 L363.3 140.65 L364.3 144.28 L365.3 145.31 L366.3 150.32 L367.3 151 L368.3 152.43 L369.3 153.3 L370.3 154.43 L371.3 154.98 L372.3 155.39 L373.3 155.67 L374.3 155.84 L375.3 155.94 L376.3 155.99 L377.3 156 L378.3 156 L379.3 156 L380.3 156 L381.3 156 L382.3 156 L383.3 156 L384.3 156 L385.3 156 L386.3 156 L387.3 156 L388.3 156 L389.3 156 L390.3 156 L391.3 156 L391.8 240.3 L290.3 240.3Z" fill="#fff" stroke="none"/>
<path d="M290.3 156 L291.3 156 L292.3 156 L293.3 156 L294.3 156 L295.3 156 L296.3 156 L297.3 156 L298.3 156 L299.3 156 L300.3 156 L301.3 156 L302.3 156 L303.3 156 L304.3 156 L305.3 156 L306.3 156 L307.3 156 L308.3 156 L309.3 156 L310.3 156 L311.3 156 L312.3 156 L313.3 156 L314.3 156 L315.3 156 L316.3 156 L317.3 156 L318.3 156 L319.3 156 L320.3 156 L321.3 156 L322.3 156 L323.3 156 L324.3 156 L325.3 156 L326.3 156 L327.3 156 L328.3 156 L329.3 156 L330.3 156 L331.3 156 L332.3 156 L333.3 156 L334.3 156 L335.3 156 L336.3 156 L337.3 156 L338.3 156 L339.3 156 L340.3 156 L341.3 156 L342.3 156 L343.3 156 L344.3 156 L345.3 155.95 L346.3 155.8 L347.3 155.41 L348.3 154.72 L349.3 153.76 L350.3 151.72 L351.3 150.98 L352.3 148.33 L353.3 148.15 L354.3 143.24 L355.3 142.15 L356.3 141.65 L357.3 140.24 L358.3 135.64 L359.3 136.82 L360.3 138.05 L361.3 138.16 L362.3 141.78 L363.3 140.65 L364.3 144.28 L365.3 145.31 L366.3 150.32 L367.3 151 L368.3 152.43 L369.3 153.3 L370.3 154.43 L371.3 154.98 L372.3 155.39 L373.3 155.67 L374.3 155.84 L375.3 155.94 L376.3 155.99 L377.3 156 L378.3 156 L379.3 156 L380.3 156 L381.3 156 L382.3 156 L383.3 156 L384.3 156 L385.3 156 L386.3 156 L387.3 156 L388.3 156 L389.3 156 L390.3 156 L391.3 156" fill="none" stroke="#1b3578" stroke-width="1.7" stroke-linejoin="round"/>
<path d="M290.3 164.47 L291.3 164.42 L292.3 164.36 L293.3 164.29 L294.3 164.22 L295.3 164.15 L296.3 164.08 L297.3 164.02 L298.3 163.95 L299.3 163.88 L300.3 163.81 L301.3 163.74 L302.3 163.67 L303.3 163.6 L304.3 163.53 L305.3 163.46 L306.3 163.39 L307.3 163.31 L308.3 163.23 L309.3 163.15 L310.3 163.07 L311.3 162.99 L312.3 162.92 L313.3 162.82 L314.3 162.82 L315.3 162.54 L316.3 162.59 L317.3 162.42 L318.3 162.51 L319.3 162.07 L320.3 162.21 L321.3 162.22 L322.3 161.84 L323.3 162.21 L324.3 161.98 L325.3 162.09 L326.3 162 L327.3 161.38 L328.3 161.25 L329.3 161.23 L330.3 161.38 L331.3 161.26 L332.3 160.37 L333.3 160.2 L334.3 159.86 L335.3 159.7 L336.3 159.59 L337.3 159.3 L338.3 160.65 L339.3 158.17 L340.3 157.92 L341.3 158.17 L342.3 156.12 L343.3 155.88 L344.3 155.31 L345.3 155.07 L346.3 151.98 L347.3 153.67 L348.3 150.92 L349.3 150.35 L350.3 149.84 L351.3 148.46 L352.3 147.79 L353.3 146.21 L354.3 145.85 L355.3 146.5 L356.3 145.65 L357.3 148.38 L358.3 147.2 L359.3 148.35 L360.3 154.03 L361.3 154.56 L362.3 156.11 L363.3 160.77 L364.3 160.98 L365.3 162.38 L366.3 162.96 L367.3 163.48 L368.3 163.85 L369.3 164.09 L370.3 164.26 L371.3 164.38 L372.3 164.46 L373.3 164.49 L374.3 164.5 L375.3 164.5 L376.3 164.5 L377.3 164.5 L378.3 164.5 L379.3 164.5 L380.3 164.5 L381.3 164.5 L382.3 164.5 L383.3 164.5 L384.3 164.5 L385.3 164.5 L386.3 164.5 L387.3 164.5 L388.3 164.5 L389.3 164.5 L390.3 164.5 L391.3 164.5 L391.8 240.3 L290.3 240.3Z" fill="#fff" stroke="none"/>
<path d="M290.3 164.47 L291.3 164.42 L292.3 164.36 L293.3 164.29 L294.3 164.22 L295.3 164.15 L296.3 164.08 L297.3 164.02 L298.3 163.95 L299.3 163.88 L300.3 163.81 L301.3 163.74 L302.3 163.67 L303.3 163.6 L304.3 163.53 L305.3 163.46 L306.3 163.39 L307.3 163.31 L308.3 163.23 L309.3 163.15 L310.3 163.07 L311.3 162.99 L312.3 162.92 L313.3 162.82 L314.3 162.82 L315.3 162.54 L316.3 162.59 L317.3 162.42 L318.3 162.51 L319.3 162.07 L320.3 162.21 L321.3 162.22 L322.3 161.84 L323.3 162.21 L324.3 161.98 L325.3 162.09 L326.3 162 L327.3 161.38 L328.3 161.25 L329.3 161.23 L330.3 161.38 L331.3 161.26 L332.3 160.37 L333.3 160.2 L334.3 159.86 L335.3 159.7 L336.3 159.59 L337.3 159.3 L338.3 160.65 L339.3 158.17 L340.3 157.92 L341.3 158.17 L342.3 156.12 L343.3 155.88 L344.3 155.31 L345.3 155.07 L346.3 151.98 L347.3 153.67 L348.3 150.92 L349.3 150.35 L350.3 149.84 L351.3 148.46 L352.3 147.79 L353.3 146.21 L354.3 145.85 L355.3 146.5 L356.3 145.65 L357.3 148.38 L358.3 147.2 L359.3 148.35 L360.3 154.03 L361.3 154.56 L362.3 156.11 L363.3 160.77 L364.3 160.98 L365.3 162.38 L366.3 162.96 L367.3 163.48 L368.3 163.85 L369.3 164.09 L370.3 164.26 L371.3 164.38 L372.3 164.46 L373.3 164.49 L374.3 164.5 L375.3 164.5 L376.3 164.5 L377.3 164.5 L378.3 164.5 L379.3 164.5 L380.3 164.5 L381.3 164.5 L382.3 164.5 L383.3 164.5 L384.3 164.5 L385.3 164.5 L386.3 164.5 L387.3 164.5 L388.3 164.5 L389.3 164.5 L390.3 164.5 L391.3 164.5" fill="none" stroke="#f07f22" stroke-width="1.7" stroke-linejoin="round"/>
<path d="M290.3 172.86 L291.3 172.79 L292.3 172.7 L293.3 172.6 L294.3 172.5 L295.3 172.4 L296.3 172.3 L297.3 172.2 L298.3 172.09 L299.3 171.99 L300.3 171.89 L301.3 171.79 L302.3 171.69 L303.3 171.59 L304.3 171.49 L305.3 171.37 L306.3 171.23 L307.3 170.98 L308.3 170.79 L309.3 170.58 L310.3 170.3 L311.3 170.36 L312.3 170 L313.3 169.63 L314.3 169.75 L315.3 169.72 L316.3 168.44 L317.3 168.82 L318.3 168.17 L319.3 168.36 L320.3 167.39 L321.3 167.98 L322.3 167.69 L323.3 167.23 L324.3 166.35 L325.3 166.63 L326.3 165.72 L327.3 165.17 L328.3 166.44 L329.3 164.74 L330.3 166.5 L331.3 165.44 L332.3 162.05 L333.3 163.65 L334.3 161.62 L335.3 162.12 L336.3 161.54 L337.3 158.97 L338.3 160.22 L339.3 159.69 L340.3 160.41 L341.3 157.77 L342.3 159.19 L343.3 156.87 L344.3 157.17 L345.3 156.24 L346.3 158.12 L347.3 156.83 L348.3 158.28 L349.3 156.04 L350.3 155.88 L351.3 155.78 L352.3 154.54 L353.3 155.28 L354.3 156.58 L355.3 154.46 L356.3 154.94 L357.3 155.41 L358.3 157.66 L359.3 159.11 L360.3 162.15 L361.3 165.34 L362.3 167.54 L363.3 168.84 L364.3 170.66 L365.3 171.39 L366.3 171.98 L367.3 172.34 L368.3 172.57 L369.3 172.75 L370.3 172.85 L371.3 172.89 L372.3 172.9 L373.3 172.9 L374.3 172.9 L375.3 172.9 L376.3 172.9 L377.3 172.9 L378.3 172.9 L379.3 172.9 L380.3 172.9 L381.3 172.9 L382.3 172.9 L383.3 172.9 L384.3 172.9 L385.3 172.9 L386.3 172.9 L387.3 172.9 L388.3 172.9 L389.3 172.9 L390.3 172.9 L391.3 172.9 L391.8 240.3 L290.3 240.3Z" fill="#fff" stroke="none"/>
<path d="M290.3 172.86 L291.3 172.79 L292.3 172.7 L293.3 172.6 L294.3 172.5 L295.3 172.4 L296.3 172.3 L297.3 172.2 L298.3 172.09 L299.3 171.99 L300.3 171.89 L301.3 171.79 L302.3 171.69 L303.3 171.59 L304.3 171.49 L305.3 171.37 L306.3 171.23 L307.3 170.98 L308.3 170.79 L309.3 170.58 L310.3 170.3 L311.3 170.36 L312.3 170 L313.3 169.63 L314.3 169.75 L315.3 169.72 L316.3 168.44 L317.3 168.82 L318.3 168.17 L319.3 168.36 L320.3 167.39 L321.3 167.98 L322.3 167.69 L323.3 167.23 L324.3 166.35 L325.3 166.63 L326.3 165.72 L327.3 165.17 L328.3 166.44 L329.3 164.74 L330.3 166.5 L331.3 165.44 L332.3 162.05 L333.3 163.65 L334.3 161.62 L335.3 162.12 L336.3 161.54 L337.3 158.97 L338.3 160.22 L339.3 159.69 L340.3 160.41 L341.3 157.77 L342.3 159.19 L343.3 156.87 L344.3 157.17 L345.3 156.24 L346.3 158.12 L347.3 156.83 L348.3 158.28 L349.3 156.04 L350.3 155.88 L351.3 155.78 L352.3 154.54 L353.3 155.28 L354.3 156.58 L355.3 154.46 L356.3 154.94 L357.3 155.41 L358.3 157.66 L359.3 159.11 L360.3 162.15 L361.3 165.34 L362.3 167.54 L363.3 168.84 L364.3 170.66 L365.3 171.39 L366.3 171.98 L367.3 172.34 L368.3 172.57 L369.3 172.75 L370.3 172.85 L371.3 172.89 L372.3 172.9 L373.3 172.9 L374.3 172.9 L375.3 172.9 L376.3 172.9 L377.3 172.9 L378.3 172.9 L379.3 172.9 L380.3 172.9 L381.3 172.9 L382.3 172.9 L383.3 172.9 L384.3 172.9 L385.3 172.9 L386.3 172.9 L387.3 172.9 L388.3 172.9 L389.3 172.9 L390.3 172.9 L391.3 172.9" fill="none" stroke="#2ee02a" stroke-width="1.7" stroke-linejoin="round"/>
<path d="M290.3 181.37 L291.3 181.32 L292.3 181.26 L293.3 181.19 L294.3 181.12 L295.3 181.05 L296.3 180.98 L297.3 180.92 L298.3 180.85 L299.3 180.78 L300.3 180.71 L301.3 180.64 L302.3 180.57 L303.3 180.5 L304.3 180.43 L305.3 180.36 L306.3 180.27 L307.3 180.17 L308.3 180.06 L309.3 179.95 L310.3 179.82 L311.3 179.69 L312.3 179.61 L313.3 179.51 L314.3 179.21 L315.3 179.04 L316.3 179.19 L317.3 178.85 L318.3 179.12 L319.3 178.82 L320.3 178.67 L321.3 178.51 L322.3 178.59 L323.3 178.11 L324.3 178.43 L325.3 177.67 L326.3 177.62 L327.3 177.19 L328.3 177.57 L329.3 176.96 L330.3 176.05 L331.3 177.73 L332.3 175.65 L333.3 175.42 L334.3 175.4 L335.3 176.17 L336.3 173.62 L337.3 173.8 L338.3 172.53 L339.3 170.28 L340.3 171.83 L341.3 171.32 L342.3 169.3 L343.3 168.69 L344.3 166.23 L345.3 165.04 L346.3 164.95 L347.3 164.92 L348.3 163.29 L349.3 164.21 L350.3 165.72 L351.3 166.11 L352.3 168.01 L353.3 170.28 L354.3 168.96 L355.3 172.35 L356.3 171.22 L357.3 175.12 L358.3 176.35 L359.3 177.23 L360.3 178.19 L361.3 179.3 L362.3 179.99 L363.3 180.53 L364.3 180.88 L365.3 181.09 L366.3 181.22 L367.3 181.32 L368.3 181.37 L369.3 181.4 L370.3 181.4 L371.3 181.4 L372.3 181.4 L373.3 181.4 L374.3 181.4 L375.3 181.4 L376.3 181.4 L377.3 181.4 L378.3 181.4 L379.3 181.4 L380.3 181.4 L381.3 181.4 L382.3 181.4 L383.3 181.4 L384.3 181.4 L385.3 181.4 L386.3 181.4 L387.3 181.4 L388.3 181.4 L389.3 181.4 L390.3 181.4 L391.3 181.4 L391.8 240.3 L290.3 240.3Z" fill="#fff" stroke="none"/>
<path d="M290.3 181.37 L291.3 181.32 L292.3 181.26 L293.3 181.19 L294.3 181.12 L295.3 181.05 L296.3 180.98 L297.3 180.92 L298.3 180.85 L299.3 180.78 L300.3 180.71 L301.3 180.64 L302.3 180.57 L303.3 180.5 L304.3 180.43 L305.3 180.36 L306.3 180.27 L307.3 180.17 L308.3 180.06 L309.3 179.95 L310.3 179.82 L311.3 179.69 L312.3 179.61 L313.3 179.51 L314.3 179.21 L315.3 179.04 L316.3 179.19 L317.3 178.85 L318.3 179.12 L319.3 178.82 L320.3 178.67 L321.3 178.51 L322.3 178.59 L323.3 178.11 L324.3 178.43 L325.3 177.67 L326.3 177.62 L327.3 177.19 L328.3 177.57 L329.3 176.96 L330.3 176.05 L331.3 177.73 L332.3 175.65 L333.3 175.42 L334.3 175.4 L335.3 176.17 L336.3 173.62 L337.3 173.8 L338.3 172.53 L339.3 170.28 L340.3 171.83 L341.3 171.32 L342.3 169.3 L343.3 168.69 L344.3 166.23 L345.3 165.04 L346.3 164.95 L347.3 164.92 L348.3 163.29 L349.3 164.21 L350.3 165.72 L351.3 166.11 L352.3 168.01 L353.3 170.28 L354.3 168.96 L355.3 172.35 L356.3 171.22 L357.3 175.12 L358.3 176.35 L359.3 177.23 L360.3 178.19 L361.3 179.3 L362.3 179.99 L363.3 180.53 L364.3 180.88 L365.3 181.09 L366.3 181.22 L367.3 181.32 L368.3 181.37 L369.3 181.4 L370.3 181.4 L371.3 181.4 L372.3 181.4 L373.3 181.4 L374.3 181.4 L375.3 181.4 L376.3 181.4 L377.3 181.4 L378.3 181.4 L379.3 181.4 L380.3 181.4 L381.3 181.4 L382.3 181.4 L383.3 181.4 L384.3 181.4 L385.3 181.4 L386.3 181.4 L387.3 181.4 L388.3 181.4 L389.3 181.4 L390.3 181.4 L391.3 181.4" fill="none" stroke="#1414b8" stroke-width="1.7" stroke-linejoin="round"/>
<path d="M290.3 189.96 L291.3 189.91 L292.3 189.84 L293.3 189.75 L294.3 189.67 L295.3 189.59 L296.3 189.51 L297.3 189.43 L298.3 189.35 L299.3 189.26 L300.3 189.18 L301.3 189.1 L302.3 189.02 L303.3 188.94 L304.3 188.85 L305.3 188.77 L306.3 188.67 L307.3 188.57 L308.3 188.43 L309.3 188.29 L310.3 188.11 L311.3 188.08 L312.3 187.84 L313.3 187.89 L314.3 187.76 L315.3 187.59 L316.3 187 L317.3 187.26 L318.3 187.25 L319.3 187.18 L320.3 186.58 L321.3 186.76 L322.3 186.46 L323.3 186.38 L324.3 186.97 L325.3 186.1 L326.3 186.29 L327.3 186.57 L328.3 185.69 L329.3 185.72 L330.3 185.64 L331.3 185.41 L332.3 184.34 L333.3 185.01 L334.3 185.77 L335.3 183.31 L336.3 185.03 L337.3 184.12 L338.3 182.96 L339.3 185.04 L340.3 183.16 L341.3 180.53 L342.3 181.13 L343.3 180.86 L344.3 179.14 L345.3 178.79 L346.3 176.66 L347.3 175.92 L348.3 175.21 L349.3 171.76 L350.3 171.69 L351.3 170.95 L352.3 172.49 L353.3 173.14 L354.3 176.15 L355.3 178.97 L356.3 182.23 L357.3 184.35 L358.3 183.81 L359.3 185.69 L360.3 187.25 L361.3 187.6 L362.3 188.52 L363.3 189.05 L364.3 189.41 L365.3 189.63 L366.3 189.79 L367.3 189.9 L368.3 189.97 L369.3 190 L370.3 190 L371.3 190 L372.3 190 L373.3 190 L374.3 190 L375.3 190 L376.3 190 L377.3 190 L378.3 190 L379.3 190 L380.3 190 L381.3 190 L382.3 190 L383.3 190 L384.3 190 L385.3 190 L386.3 190 L387.3 190 L388.3 190 L389.3 190 L390.3 190 L391.3 190 L391.8 240.3 L290.3 240.3Z" fill="#fff" stroke="none"/>
<path d="M290.3 189.96 L291.3 189.91 L292.3 189.84 L293.3 189.75 L294.3 189.67 L295.3 189.59 L296.3 189.51 L297.3 189.43 L298.3 189.35 L299.3 189.26 L300.3 189.18 L301.3 189.1 L302.3 189.02 L303.3 188.94 L304.3 188.85 L305.3 188.77 L306.3 188.67 L307.3 188.57 L308.3 188.43 L309.3 188.29 L310.3 188.11 L311.3 188.08 L312.3 187.84 L313.3 187.89 L314.3 187.76 L315.3 187.59 L316.3 187 L317.3 187.26 L318.3 187.25 L319.3 187.18 L320.3 186.58 L321.3 186.76 L322.3 186.46 L323.3 186.38 L324.3 186.97 L325.3 186.1 L326.3 186.29 L327.3 186.57 L328.3 185.69 L329.3 185.72 L330.3 185.64 L331.3 185.41 L332.3 184.34 L333.3 185.01 L334.3 185.77 L335.3 183.31 L336.3 185.03 L337.3 184.12 L338.3 182.96 L339.3 185.04 L340.3 183.16 L341.3 180.53 L342.3 181.13 L343.3 180.86 L344.3 179.14 L345.3 178.79 L346.3 176.66 L347.3 175.92 L348.3 175.21 L349.3 171.76 L350.3 171.69 L351.3 170.95 L352.3 172.49 L353.3 173.14 L354.3 176.15 L355.3 178.97 L356.3 182.23 L357.3 184.35 L358.3 183.81 L359.3 185.69 L360.3 187.25 L361.3 187.6 L362.3 188.52 L363.3 189.05 L364.3 189.41 L365.3 189.63 L366.3 189.79 L367.3 189.9 L368.3 189.97 L369.3 190 L370.3 190 L371.3 190 L372.3 190 L373.3 190 L374.3 190 L375.3 190 L376.3 190 L377.3 190 L378.3 190 L379.3 190 L380.3 190 L381.3 190 L382.3 190 L383.3 190 L384.3 190 L385.3 190 L386.3 190 L387.3 190 L388.3 190 L389.3 190 L390.3 190 L391.3 190" fill="none" stroke="#3ad6e8" stroke-width="1.7" stroke-linejoin="round"/>
<path d="M290.3 198.37 L291.3 198.32 L292.3 198.25 L293.3 198.17 L294.3 198.1 L295.3 198.02 L296.3 197.95 L297.3 197.87 L298.3 197.8 L299.3 197.72 L300.3 197.65 L301.3 197.57 L302.3 197.49 L303.3 197.42 L304.3 197.34 L305.3 197.26 L306.3 197.15 L307.3 197.02 L308.3 196.87 L309.3 196.71 L310.3 196.59 L311.3 196.44 L312.3 196.05 L313.3 196.16 L314.3 195.93 L315.3 195.75 L316.3 195.61 L317.3 195.55 L318.3 194.77 L319.3 195.72 L320.3 194.71 L321.3 193.96 L322.3 194.65 L323.3 195.16 L324.3 193.83 L325.3 194.74 L326.3 194.48 L327.3 192.33 L328.3 190.51 L329.3 191.09 L330.3 193.01 L331.3 190.5 L332.3 189.16 L333.3 188.59 L334.3 189.13 L335.3 188.29 L336.3 188.35 L337.3 187.55 L338.3 184.56 L339.3 184.14 L340.3 181.94 L341.3 182.01 L342.3 179.84 L343.3 179.08 L344.3 181.98 L345.3 179.81 L346.3 180.72 L347.3 183.35 L348.3 182.86 L349.3 183.61 L350.3 185.69 L351.3 186.81 L352.3 190.46 L353.3 190.65 L354.3 193.98 L355.3 193.42 L356.3 194.6 L357.3 195.55 L358.3 196.4 L359.3 196.87 L360.3 197.31 L361.3 197.67 L362.3 197.92 L363.3 198.1 L364.3 198.23 L365.3 198.33 L366.3 198.38 L367.3 198.4 L368.3 198.4 L369.3 198.4 L370.3 198.4 L371.3 198.4 L372.3 198.4 L373.3 198.4 L374.3 198.4 L375.3 198.4 L376.3 198.4 L377.3 198.4 L378.3 198.4 L379.3 198.4 L380.3 198.4 L381.3 198.4 L382.3 198.4 L383.3 198.4 L384.3 198.4 L385.3 198.4 L386.3 198.4 L387.3 198.4 L388.3 198.4 L389.3 198.4 L390.3 198.4 L391.3 198.4 L391.8 240.3 L290.3 240.3Z" fill="#fff" stroke="none"/>
<path d="M290.3 198.37 L291.3 198.32 L292.3 198.25 L293.3 198.17 L294.3 198.1 L295.3 198.02 L296.3 197.95 L297.3 197.87 L298.3 197.8 L299.3 197.72 L300.3 197.65 L301.3 197.57 L302.3 197.49 L303.3 197.42 L304.3 197.34 L305.3 197.26 L306.3 197.15 L307.3 197.02 L308.3 196.87 L309.3 196.71 L310.3 196.59 L311.3 196.44 L312.3 196.05 L313.3 196.16 L314.3 195.93 L315.3 195.75 L316.3 195.61 L317.3 195.55 L318.3 194.77 L319.3 195.72 L320.3 194.71 L321.3 193.96 L322.3 194.65 L323.3 195.16 L324.3 193.83 L325.3 194.74 L326.3 194.48 L327.3 192.33 L328.3 190.51 L329.3 191.09 L330.3 193.01 L331.3 190.5 L332.3 189.16 L333.3 188.59 L334.3 189.13 L335.3 188.29 L336.3 188.35 L337.3 187.55 L338.3 184.56 L339.3 184.14 L340.3 181.94 L341.3 182.01 L342.3 179.84 L343.3 179.08 L344.3 181.98 L345.3 179.81 L346.3 180.72 L347.3 183.35 L348.3 182.86 L349.3 183.61 L350.3 185.69 L351.3 186.81 L352.3 190.46 L353.3 190.65 L354.3 193.98 L355.3 193.42 L356.3 194.6 L357.3 195.55 L358.3 196.4 L359.3 196.87 L360.3 197.31 L361.3 197.67 L362.3 197.92 L363.3 198.1 L364.3 198.23 L365.3 198.33 L366.3 198.38 L367.3 198.4 L368.3 198.4 L369.3 198.4 L370.3 198.4 L371.3 198.4 L372.3 198.4 L373.3 198.4 L374.3 198.4 L375.3 198.4 L376.3 198.4 L377.3 198.4 L378.3 198.4 L379.3 198.4 L380.3 198.4 L381.3 198.4 L382.3 198.4 L383.3 198.4 L384.3 198.4 L385.3 198.4 L386.3 198.4 L387.3 198.4 L388.3 198.4 L389.3 198.4 L390.3 198.4 L391.3 198.4" fill="none" stroke="#a4541e" stroke-width="1.7" stroke-linejoin="round"/>
<path d="M290.3 206.69 L291.3 206.67 L292.3 206.65 L293.3 206.62 L294.3 206.6 L295.3 206.57 L296.3 206.55 L297.3 206.52 L298.3 206.5 L299.3 206.47 L300.3 206.45 L301.3 206.42 L302.3 206.4 L303.3 206.37 L304.3 206.35 L305.3 206.31 L306.3 206.24 L307.3 206.15 L308.3 206.03 L309.3 205.9 L310.3 205.77 L311.3 205.64 L312.3 205.51 L313.3 205.38 L314.3 205.25 L315.3 205.11 L316.3 205.02 L317.3 204.79 L318.3 204.8 L319.3 204.45 L320.3 204.54 L321.3 204.15 L322.3 203.78 L323.3 203.79 L324.3 203.18 L325.3 203.5 L326.3 202.93 L327.3 202.82 L328.3 202.24 L329.3 201.57 L330.3 201.41 L331.3 201.75 L332.3 199.9 L333.3 198.42 L334.3 197.23 L335.3 196.98 L336.3 195.44 L337.3 197.02 L338.3 192.84 L339.3 191.73 L340.3 191.28 L341.3 191.08 L342.3 189.18 L343.3 187.8 L344.3 187.63 L345.3 188.26 L346.3 190.32 L347.3 189.65 L348.3 192.2 L349.3 193.48 L350.3 196.2 L351.3 197.93 L352.3 197.57 L353.3 202.66 L354.3 201.61 L355.3 202.2 L356.3 203.06 L357.3 204.1 L358.3 204.79 L359.3 205.32 L360.3 205.78 L361.3 206.14 L362.3 206.36 L363.3 206.5 L364.3 206.59 L365.3 206.65 L366.3 206.69 L367.3 206.7 L368.3 206.7 L369.3 206.7 L370.3 206.7 L371.3 206.7 L372.3 206.7 L373.3 206.7 L374.3 206.7 L375.3 206.7 L376.3 206.7 L377.3 206.7 L378.3 206.7 L379.3 206.7 L380.3 206.7 L381.3 206.7 L382.3 206.7 L383.3 206.7 L384.3 206.7 L385.3 206.7 L386.3 206.7 L387.3 206.7 L388.3 206.7 L389.3 206.7 L390.3 206.7 L391.3 206.7 L391.8 240.3 L290.3 240.3Z" fill="#fff" stroke="none"/>
<path d="M290.3 206.69 L291.3 206.67 L292.3 206.65 L293.3 206.62 L294.3 206.6 L295.3 206.57 L296.3 206.55 L297.3 206.52 L298.3 206.5 L299.3 206.47 L300.3 206.45 L301.3 206.42 L302.3 206.4 L303.3 206.37 L304.3 206.35 L305.3 206.31 L306.3 206.24 L307.3 206.15 L308.3 206.03 L309.3 205.9 L310.3 205.77 L311.3 205.64 L312.3 205.51 L313.3 205.38 L314.3 205.25 L315.3 205.11 L316.3 205.02 L317.3 204.79 L318.3 204.8 L319.3 204.45 L320.3 204.54 L321.3 204.15 L322.3 203.78 L323.3 203.79 L324.3 203.18 L325.3 203.5 L326.3 202.93 L327.3 202.82 L328.3 202.24 L329.3 201.57 L330.3 201.41 L331.3 201.75 L332.3 199.9 L333.3 198.42 L334.3 197.23 L335.3 196.98 L336.3 195.44 L337.3 197.02 L338.3 192.84 L339.3 191.73 L340.3 191.28 L341.3 191.08 L342.3 189.18 L343.3 187.8 L344.3 187.63 L345.3 188.26 L346.3 190.32 L347.3 189.65 L348.3 192.2 L349.3 193.48 L350.3 196.2 L351.3 197.93 L352.3 197.57 L353.3 202.66 L354.3 201.61 L355.3 202.2 L356.3 203.06 L357.3 204.1 L358.3 204.79 L359.3 205.32 L360.3 205.78 L361.3 206.14 L362.3 206.36 L363.3 206.5 L364.3 206.59 L365.3 206.65 L366.3 206.69 L367.3 206.7 L368.3 206.7 L369.3 206.7 L370.3 206.7 L371.3 206.7 L372.3 206.7 L373.3 206.7 L374.3 206.7 L375.3 206.7 L376.3 206.7 L377.3 206.7 L378.3 206.7 L379.3 206.7 L380.3 206.7 L381.3 206.7 L382.3 206.7 L383.3 206.7 L384.3 206.7 L385.3 206.7 L386.3 206.7 L387.3 206.7 L388.3 206.7 L389.3 206.7 L390.3 206.7 L391.3 206.7" fill="none" stroke="#e3161b" stroke-width="1.7" stroke-linejoin="round"/>
<path d="M290.3 215.08 L291.3 215.06 L292.3 215.02 L293.3 214.99 L294.3 214.95 L295.3 214.91 L296.3 214.87 L297.3 214.83 L298.3 214.8 L299.3 214.76 L300.3 214.72 L301.3 214.68 L302.3 214.65 L303.3 214.61 L304.3 214.57 L305.3 214.53 L306.3 214.49 L307.3 214.46 L308.3 214.42 L309.3 214.38 L310.3 214.34 L311.3 214.3 L312.3 214.27 L313.3 214.23 L314.3 214.19 L315.3 214.13 L316.3 214.02 L317.3 213.82 L318.3 213.55 L319.3 213.27 L320.3 212.84 L321.3 212.15 L322.3 212.25 L323.3 211.8 L324.3 211.55 L325.3 211.93 L326.3 210.89 L327.3 210.47 L328.3 210.1 L329.3 208.6 L330.3 207.35 L331.3 206.45 L332.3 207.1 L333.3 205.9 L334.3 203.85 L335.3 204.31 L336.3 202.12 L337.3 199.38 L338.3 200.19 L339.3 198.42 L340.3 196.53 L341.3 198.18 L342.3 197.84 L343.3 198.87 L344.3 201.34 L345.3 200.14 L346.3 202.61 L347.3 204.86 L348.3 206.81 L349.3 207.09 L350.3 207.89 L351.3 208.95 L352.3 210.47 L353.3 211.56 L354.3 211.44 L355.3 212.17 L356.3 213.15 L357.3 213.64 L358.3 213.98 L359.3 214.22 L360.3 214.44 L361.3 214.66 L362.3 214.86 L363.3 215 L364.3 215.08 L365.3 215.1 L366.3 215.1 L367.3 215.1 L368.3 215.1 L369.3 215.1 L370.3 215.1 L371.3 215.1 L372.3 215.1 L373.3 215.1 L374.3 215.1 L375.3 215.1 L376.3 215.1 L377.3 215.1 L378.3 215.1 L379.3 215.1 L380.3 215.1 L381.3 215.1 L382.3 215.1 L383.3 215.1 L384.3 215.1 L385.3 215.1 L386.3 215.1 L387.3 215.1 L388.3 215.1 L389.3 215.1 L390.3 215.1 L391.3 215.1 L391.8 240.3 L290.3 240.3Z" fill="#fff" stroke="none"/>
<path d="M290.3 215.08 L291.3 215.06 L292.3 215.02 L293.3 214.99 L294.3 214.95 L295.3 214.91 L296.3 214.87 L297.3 214.83 L298.3 214.8 L299.3 214.76 L300.3 214.72 L301.3 214.68 L302.3 214.65 L303.3 214.61 L304.3 214.57 L305.3 214.53 L306.3 214.49 L307.3 214.46 L308.3 214.42 L309.3 214.38 L310.3 214.34 L311.3 214.3 L312.3 214.27 L313.3 214.23 L314.3 214.19 L315.3 214.13 L316.3 214.02 L317.3 213.82 L318.3 213.55 L319.3 213.27 L320.3 212.84 L321.3 212.15 L322.3 212.25 L323.3 211.8 L324.3 211.55 L325.3 211.93 L326.3 210.89 L327.3 210.47 L328.3 210.1 L329.3 208.6 L330.3 207.35 L331.3 206.45 L332.3 207.1 L333.3 205.9 L334.3 203.85 L335.3 204.31 L336.3 202.12 L337.3 199.38 L338.3 200.19 L339.3 198.42 L340.3 196.53 L341.3 198.18 L342.3 197.84 L343.3 198.87 L344.3 201.34 L345.3 200.14 L346.3 202.61 L347.3 204.86 L348.3 206.81 L349.3 207.09 L350.3 207.89 L351.3 208.95 L352.3 210.47 L353.3 211.56 L354.3 211.44 L355.3 212.17 L356.3 213.15 L357.3 213.64 L358.3 213.98 L359.3 214.22 L360.3 214.44 L361.3 214.66 L362.3 214.86 L363.3 215 L364.3 215.08 L365.3 215.1 L366.3 215.1 L367.3 215.1 L368.3 215.1 L369.3 215.1 L370.3 215.1 L371.3 215.1 L372.3 215.1 L373.3 215.1 L374.3 215.1 L375.3 215.1 L376.3 215.1 L377.3 215.1 L378.3 215.1 L379.3 215.1 L380.3 215.1 L381.3 215.1 L382.3 215.1 L383.3 215.1 L384.3 215.1 L385.3 215.1 L386.3 215.1 L387.3 215.1 L388.3 215.1 L389.3 215.1 L390.3 215.1 L391.3 215.1" fill="none" stroke="#e026dc" stroke-width="1.7" stroke-linejoin="round"/>
<path d="M290.3 223.84 L291.3 223.61 L292.3 223.3 L293.3 222.95 L294.3 222.59 L295.3 222.22 L296.3 221.95 L297.3 221.48 L298.3 221.28 L299.3 219.9 L300.3 220.86 L301.3 219.57 L302.3 219.59 L303.3 218.53 L304.3 217.81 L305.3 218.07 L306.3 217.89 L307.3 216.25 L308.3 215.65 L309.3 215.82 L310.3 213.6 L311.3 212.28 L312.3 213.49 L313.3 211.7 L314.3 209.71 L315.3 210.05 L316.3 209.64 L317.3 208.16 L318.3 207.12 L319.3 207.92 L320.3 208.11 L321.3 206.42 L322.3 205.48 L323.3 206.36 L324.3 206.62 L325.3 205.73 L326.3 206.75 L327.3 207.31 L328.3 205.87 L329.3 204.99 L330.3 205.97 L331.3 205.95 L332.3 207.12 L333.3 205.23 L334.3 206.43 L335.3 206.89 L336.3 206.6 L337.3 208.97 L338.3 209.8 L339.3 208.99 L340.3 211.72 L341.3 211.98 L342.3 212.73 L343.3 213.52 L344.3 215.09 L345.3 213.8 L346.3 216.68 L347.3 217.49 L348.3 215.92 L349.3 218.65 L350.3 218.89 L351.3 220.18 L352.3 220.25 L353.3 221.08 L354.3 221.74 L355.3 222.14 L356.3 222.62 L357.3 222.98 L358.3 223.29 L359.3 223.54 L360.3 223.7 L361.3 223.81 L362.3 223.9 L363.3 223.96 L364.3 223.99 L365.3 224 L366.3 224 L367.3 224 L368.3 224 L369.3 224 L370.3 224 L371.3 224 L372.3 224 L373.3 224 L374.3 224 L375.3 224 L376.3 224 L377.3 224 L378.3 224 L379.3 224 L380.3 224 L381.3 224 L382.3 224 L383.3 224 L384.3 224 L385.3 224 L386.3 224 L387.3 224 L388.3 224 L389.3 224 L390.3 224 L391.3 224 L391.8 240.3 L290.3 240.3Z" fill="#fff" stroke="none"/>
<path d="M290.3 223.84 L291.3 223.61 L292.3 223.3 L293.3 222.95 L294.3 222.59 L295.3 222.22 L296.3 221.95 L297.3 221.48 L298.3 221.28 L299.3 219.9 L300.3 220.86 L301.3 219.57 L302.3 219.59 L303.3 218.53 L304.3 217.81 L305.3 218.07 L306.3 217.89 L307.3 216.25 L308.3 215.65 L309.3 215.82 L310.3 213.6 L311.3 212.28 L312.3 213.49 L313.3 211.7 L314.3 209.71 L315.3 210.05 L316.3 209.64 L317.3 208.16 L318.3 207.12 L319.3 207.92 L320.3 208.11 L321.3 206.42 L322.3 205.48 L323.3 206.36 L324.3 206.62 L325.3 205.73 L326.3 206.75 L327.3 207.31 L328.3 205.87 L329.3 204.99 L330.3 205.97 L331.3 205.95 L332.3 207.12 L333.3 205.23 L334.3 206.43 L335.3 206.89 L336.3 206.6 L337.3 208.97 L338.3 209.8 L339.3 208.99 L340.3 211.72 L341.3 211.98 L342.3 212.73 L343.3 213.52 L344.3 215.09 L345.3 213.8 L346.3 216.68 L347.3 217.49 L348.3 215.92 L349.3 218.65 L350.3 218.89 L351.3 220.18 L352.3 220.25 L353.3 221.08 L354.3 221.74 L355.3 222.14 L356.3 222.62 L357.3 222.98 L358.3 223.29 L359.3 223.54 L360.3 223.7 L361.3 223.81 L362.3 223.9 L363.3 223.96 L364.3 223.99 L365.3 224 L366.3 224 L367.3 224 L368.3 224 L369.3 224 L370.3 224 L371.3 224 L372.3 224 L373.3 224 L374.3 224 L375.3 224 L376.3 224 L377.3 224 L378.3 224 L379.3 224 L380.3 224 L381.3 224 L382.3 224 L383.3 224 L384.3 224 L385.3 224 L386.3 224 L387.3 224 L388.3 224 L389.3 224 L390.3 224 L391.3 224" fill="none" stroke="#7d1010" stroke-width="1.7" stroke-linejoin="round"/>
<path d="M290.3 232.66 L291.3 232.59 L292.3 232.51 L293.3 232.42 L294.3 232.32 L295.3 232.23 L296.3 232.11 L297.3 231.95 L298.3 231.71 L299.3 231.39 L300.3 231.02 L301.3 230.7 L302.3 229.91 L303.3 229.93 L304.3 229.2 L305.3 229.83 L306.3 229.01 L307.3 228.48 L308.3 227.02 L309.3 226.85 L310.3 226.07 L311.3 224.23 L312.3 223.19 L313.3 222.63 L314.3 221.15 L315.3 220.16 L316.3 219.52 L317.3 218.21 L318.3 218.93 L319.3 215.84 L320.3 217.63 L321.3 215.65 L322.3 215.35 L323.3 214.24 L324.3 215.13 L325.3 214.62 L326.3 214.53 L327.3 213.32 L328.3 213.71 L329.3 215.62 L330.3 214.67 L331.3 214.23 L332.3 216.18 L333.3 215.42 L334.3 216.49 L335.3 217.08 L336.3 217.04 L337.3 216.85 L338.3 219.96 L339.3 222.39 L340.3 222.87 L341.3 224.96 L342.3 226.6 L343.3 226.02 L344.3 228.28 L345.3 229.05 L346.3 229.2 L347.3 229.64 L348.3 229.96 L349.3 230.55 L350.3 230.45 L351.3 230.81 L352.3 231.16 L353.3 231.43 L354.3 231.63 L355.3 231.8 L356.3 231.95 L357.3 232.1 L358.3 232.26 L359.3 232.41 L360.3 232.54 L361.3 232.64 L362.3 232.68 L363.3 232.7 L364.3 232.7 L365.3 232.7 L366.3 232.7 L367.3 232.7 L368.3 232.7 L369.3 232.7 L370.3 232.7 L371.3 232.7 L372.3 232.7 L373.3 232.7 L374.3 232.7 L375.3 232.7 L376.3 232.7 L377.3 232.7 L378.3 232.7 L379.3 232.7 L380.3 232.7 L381.3 232.7 L382.3 232.7 L383.3 232.7 L384.3 232.7 L385.3 232.7 L386.3 232.7 L387.3 232.7 L388.3 232.7 L389.3 232.7 L390.3 232.7 L391.3 232.7 L391.8 240.3 L290.3 240.3Z" fill="#fff" stroke="none"/>
<path d="M290.3 232.66 L291.3 232.59 L292.3 232.51 L293.3 232.42 L294.3 232.32 L295.3 232.23 L296.3 232.11 L297.3 231.95 L298.3 231.71 L299.3 231.39 L300.3 231.02 L301.3 230.7 L302.3 229.91 L303.3 229.93 L304.3 229.2 L305.3 229.83 L306.3 229.01 L307.3 228.48 L308.3 227.02 L309.3 226.85 L310.3 226.07 L311.3 224.23 L312.3 223.19 L313.3 222.63 L314.3 221.15 L315.3 220.16 L316.3 219.52 L317.3 218.21 L318.3 218.93 L319.3 215.84 L320.3 217.63 L321.3 215.65 L322.3 215.35 L323.3 214.24 L324.3 215.13 L325.3 214.62 L326.3 214.53 L327.3 213.32 L328.3 213.71 L329.3 215.62 L330.3 214.67 L331.3 214.23 L332.3 216.18 L333.3 215.42 L334.3 216.49 L335.3 217.08 L336.3 217.04 L337.3 216.85 L338.3 219.96 L339.3 222.39 L340.3 222.87 L341.3 224.96 L342.3 226.6 L343.3 226.02 L344.3 228.28 L345.3 229.05 L346.3 229.2 L347.3 229.64 L348.3 229.96 L349.3 230.55 L350.3 230.45 L351.3 230.81 L352.3 231.16 L353.3 231.43 L354.3 231.63 L355.3 231.8 L356.3 231.95 L357.3 232.1 L358.3 232.26 L359.3 232.41 L360.3 232.54 L361.3 232.64 L362.3 232.68 L363.3 232.7 L364.3 232.7 L365.3 232.7 L366.3 232.7 L367.3 232.7 L368.3 232.7 L369.3 232.7 L370.3 232.7 L371.3 232.7 L372.3 232.7 L373.3 232.7 L374.3 232.7 L375.3 232.7 L376.3 232.7 L377.3 232.7 L378.3 232.7 L379.3 232.7 L380.3 232.7 L381.3 232.7 L382.3 232.7 L383.3 232.7 L384.3 232.7 L385.3 232.7 L386.3 232.7 L387.3 232.7 L388.3 232.7 L389.3 232.7 L390.3 232.7 L391.3 232.7" fill="none" stroke="#159015" stroke-width="1.7" stroke-linejoin="round"/>
<path d="M290.8 240.5 L291.8 240.5 L292.8 240.5 L293.8 240.49 L294.8 240.41 L295.8 240.21 L296.8 239.86 L297.8 239.4 L298.8 238.84 L299.8 238.44 L300.8 237.59 L301.8 236.94 L302.8 235.67 L303.8 234.41 L304.8 233.34 L305.8 232.85 L306.8 233.79 L307.8 232.18 L308.8 230.45 L309.8 229.27 L310.8 226.24 L311.8 228.08 L312.8 224.43 L313.8 225.83 L314.8 228.33 L315.8 222.3 L316.8 222.95 L317.8 223.01 L318.8 223.47 L319.8 220.8 L320.8 222.04 L321.8 221.7 L322.8 221.58 L323.8 218.72 L324.8 223.25 L325.8 225.81 L326.8 225.99 L327.8 226.05 L328.8 227.42 L329.8 226.09 L330.8 230.97 L331.8 233.44 L332.8 233.71 L333.8 230.89 L334.8 235.29 L335.8 236.88 L336.8 237.97 L337.8 238.98 L338.8 239.65 L339.8 240.12 L340.8 240.38 L341.8 240.49 L342.8 240.5 L343.8 240.5 L344.8 240.5 L345.8 240.5 L346.8 240.5 L347.8 240.5 L348.8 240.5 L349.8 240.5 L350.8 240.5 L351.8 240.5 L352.8 240.5 L353.8 240.5 L354.8 240.5 L355.8 240.5 L356.8 240.5 L357.8 240.5 L358.8 240.5 L359.8 240.5 L360.8 240.5 L361.8 240.5 L362.8 240.5 L363.8 240.5 L364.8 240.5 L365.8 240.5 L366.8 240.5 L367.8 240.5 L368.8 240.5 L369.8 240.5 L370.8 240.5 L371.8 240.5 L372.8 240.5 L373.8 240.5 L374.8 240.5 L375.8 240.5 L376.8 240.5 L377.8 240.5 L378.8 240.5 L379.8 240.5 L380.8 240.5 L381.8 240.5 L382.8 240.5 L383.8 240.5 L384.8 240.5 L385.8 240.5 L386.8 240.5 L387.8 240.5 L388.8 240.5 L389.8 240.5 L390.8 240.5 L391.8 240.5 L391.8 241 L290.3 241Z" fill="#b4b4b4" stroke="none"/>
<path d="M290.8 240.5 L291.8 240.5 L292.8 240.5 L293.8 240.49 L294.8 240.41 L295.8 240.21 L296.8 239.86 L297.8 239.4 L298.8 238.84 L299.8 238.44 L300.8 237.59 L301.8 236.94 L302.8 235.67 L303.8 234.41 L304.8 233.34 L305.8 232.85 L306.8 233.79 L307.8 232.18 L308.8 230.45 L309.8 229.27 L310.8 226.24 L311.8 228.08 L312.8 224.43 L313.8 225.83 L314.8 228.33 L315.8 222.3 L316.8 222.95 L317.8 223.01 L318.8 223.47 L319.8 220.8 L320.8 222.04 L321.8 221.7 L322.8 221.58 L323.8 218.72 L324.8 223.25 L325.8 225.81 L326.8 225.99 L327.8 226.05 L328.8 227.42 L329.8 226.09 L330.8 230.97 L331.8 233.44 L332.8 233.71 L333.8 230.89 L334.8 235.29 L335.8 236.88 L336.8 237.97 L337.8 238.98 L338.8 239.65 L339.8 240.12 L340.8 240.38 L341.8 240.49 L342.8 240.5 L343.8 240.5 L344.8 240.5 L345.8 240.5 L346.8 240.5 L347.8 240.5 L348.8 240.5 L349.8 240.5 L350.8 240.5 L351.8 240.5 L352.8 240.5 L353.8 240.5 L354.8 240.5 L355.8 240.5 L356.8 240.5 L357.8 240.5 L358.8 240.5 L359.8 240.5 L360.8 240.5 L361.8 240.5 L362.8 240.5 L363.8 240.5 L364.8 240.5 L365.8 240.5 L366.8 240.5 L367.8 240.5 L368.8 240.5 L369.8 240.5 L370.8 240.5 L371.8 240.5 L372.8 240.5 L373.8 240.5 L374.8 240.5 L375.8 240.5 L376.8 240.5 L377.8 240.5 L378.8 240.5 L379.8 240.5 L380.8 240.5 L381.8 240.5 L382.8 240.5 L383.8 240.5 L384.8 240.5 L385.8 240.5 L386.8 240.5 L387.8 240.5 L388.8 240.5 L389.8 240.5 L390.8 240.5 L391.8 240.5" fill="none" stroke="#000" stroke-width="1.5" stroke-linejoin="round"/>
<rect x="290.3" y="133.8" width="101.5" height="107" fill="none" stroke="#333" stroke-width="1"/>
<line x1="290.3" y1="240.8" x2="391.8" y2="240.8" stroke="#000" stroke-width="1.6"/>
<line x1="292.3" y1="240.8" x2="292.3" y2="243" stroke="#222" stroke-width="0.7"/>
<line x1="294.8" y1="240.8" x2="294.8" y2="243" stroke="#222" stroke-width="0.7"/>
<line x1="297.3" y1="240.8" x2="297.3" y2="243" stroke="#222" stroke-width="0.7"/>
<line x1="299.8" y1="240.8" x2="299.8" y2="243" stroke="#222" stroke-width="0.7"/>
<line x1="302.3" y1="240.8" x2="302.3" y2="243" stroke="#222" stroke-width="0.7"/>
<line x1="304.8" y1="240.8" x2="304.8" y2="243" stroke="#222" stroke-width="0.7"/>
<line x1="307.3" y1="240.8" x2="307.3" y2="243" stroke="#222" stroke-width="0.7"/>
<line x1="309.8" y1="240.8" x2="309.8" y2="243" stroke="#222" stroke-width="0.7"/>
<line x1="312.3" y1="240.8" x2="312.3" y2="243" stroke="#222" stroke-width="0.7"/>
<line x1="314.8" y1="240.8" x2="314.8" y2="243" stroke="#222" stroke-width="0.7"/>
<line x1="317.3" y1="240.8" x2="317.3" y2="243" stroke="#222" stroke-width="0.7"/>
<line x1="319.8" y1="240.8" x2="319.8" y2="243" stroke="#222" stroke-width="0.7"/>
<line x1="322.3" y1="240.8" x2="322.3" y2="243" stroke="#222" stroke-width="0.7"/>
<line x1="324.8" y1="240.8" x2="324.8" y2="243" stroke="#222" stroke-width="0.7"/>
<line x1="327.3" y1="240.8" x2="327.3" y2="243" stroke="#222" stroke-width="0.7"/>
<line x1="329.8" y1="240.8" x2="329.8" y2="243" stroke="#222" stroke-width="0.7"/>
<line x1="332.3" y1="240.8" x2="332.3" y2="243" stroke="#222" stroke-width="0.7"/>
<line x1="334.8" y1="240.8" x2="334.8" y2="243" stroke="#222" stroke-width="0.7"/>
<line x1="337.3" y1="240.8" x2="337.3" y2="243" stroke="#222" stroke-width="0.7"/>
<line x1="339.8" y1="240.8" x2="339.8" y2="243" stroke="#222" stroke-width="0.7"/>
<line x1="342.3" y1="240.8" x2="342.3" y2="243" stroke="#222" stroke-width="0.7"/>
<line x1="344.8" y1="240.8" x2="344.8" y2="243" stroke="#222" stroke-width="0.7"/>
<line x1="347.3" y1="240.8" x2="347.3" y2="243" stroke="#222" stroke-width="0.7"/>
<line x1="349.8" y1="240.8" x2="349.8" y2="243" stroke="#222" stroke-width="0.7"/>
<line x1="352.3" y1="240.8" x2="352.3" y2="243" stroke="#222" stroke-width="0.7"/>
<line x1="354.8" y1="240.8" x2="354.8" y2="243" stroke="#222" stroke-width="0.7"/>
<line x1="357.3" y1="240.8" x2="357.3" y2="243" stroke="#222" stroke-width="0.7"/>
<line x1="359.8" y1="240.8" x2="359.8" y2="243" stroke="#222" stroke-width="0.7"/>
<line x1="362.3" y1="240.8" x2="362.3" y2="243" stroke="#222" stroke-width="0.7"/>
<line x1="364.8" y1="240.8" x2="364.8" y2="243" stroke="#222" stroke-width="0.7"/>
<line x1="367.3" y1="240.8" x2="367.3" y2="243" stroke="#222" stroke-width="0.7"/>
<line x1="369.8" y1="240.8" x2="369.8" y2="243" stroke="#222" stroke-width="0.7"/>
<line x1="372.3" y1="240.8" x2="372.3" y2="243" stroke="#222" stroke-width="0.7"/>
<line x1="374.8" y1="240.8" x2="374.8" y2="243" stroke="#222" stroke-width="0.7"/>
<line x1="377.3" y1="240.8" x2="377.3" y2="243" stroke="#222" stroke-width="0.7"/>
<line x1="379.8" y1="240.8" x2="379.8" y2="243" stroke="#222" stroke-width="0.7"/>
<line x1="382.3" y1="240.8" x2="382.3" y2="243" stroke="#222" stroke-width="0.7"/>
<line x1="384.8" y1="240.8" x2="384.8" y2="243" stroke="#222" stroke-width="0.7"/>
<line x1="387.3" y1="240.8" x2="387.3" y2="243" stroke="#222" stroke-width="0.7"/>
<line x1="389.8" y1="240.8" x2="389.8" y2="243" stroke="#222" stroke-width="0.7"/>
<line x1="314.6" y1="240.8" x2="314.6" y2="243.2" stroke="#222" stroke-width="0.8"/>
<line x1="336.8" y1="240.8" x2="336.8" y2="243.2" stroke="#222" stroke-width="0.8"/>
<line x1="360.1" y1="240.8" x2="360.1" y2="243.2" stroke="#222" stroke-width="0.8"/>
<line x1="382.3" y1="240.8" x2="382.3" y2="243.2" stroke="#222" stroke-width="0.8"/>
<text x="314.6" y="253.3" class="r" font-size="7" fill="#111" text-anchor="middle">0</text>
<text x="332.6" y="253.3" class="r" font-size="7" fill="#111">10<tspan font-size="5" dy="-3.2">3</tspan></text>
<text x="355.9" y="253.3" class="r" font-size="7" fill="#111">10<tspan font-size="5" dy="-3.2">4</tspan></text>
<text x="378.1" y="253.3" class="r" font-size="7" fill="#111">10<tspan font-size="5" dy="-3.2">5</tspan></text>
<text x="289.2" y="260.7" class="b" font-size="6.3">CD123 PE</text>
<line x1="321.5" y1="258.4" x2="360" y2="258.4" stroke="#000" stroke-width="0.9"/>
<path d="M364.5 258.4L358.5 256.3L358.5 260.5Z" fill="#000"/>
<rect x="405.5" y="119.2" width="113.8" height="25.6" fill="#000"/>
<text x="432.8" y="130.3" class="b" font-size="7.7" fill="#fff" text-anchor="middle">Cell</text>
<text x="432.8" y="139.9" class="b" font-size="7.6" fill="#fff" text-anchor="middle">Source</text>
<text x="489.4" y="130.3" class="b" font-size="7.6" fill="#fff" text-anchor="middle">MFI adjusted</text>
<text x="489.4" y="139.9" class="b" font-size="7.6" fill="#fff" text-anchor="middle">for FSC</text>
<text transform="translate(432.4,153.75) scale(0.92,1)" class="b" font-size="6.4" fill="#1e2f68" stroke="#1e2f68" stroke-width="0.15" text-anchor="middle">MOLM14</text>
<text transform="translate(489.4,153.75) scale(0.95,1)" class="b" font-size="6.4" fill="#000" stroke="#000" stroke-width="0.15" text-anchor="middle">1856</text>
<text transform="translate(432.4,167.1) scale(0.92,1)" class="b" font-size="6.4" fill="#f07424" stroke="#f07424" stroke-width="0.15" text-anchor="middle">UPN30</text>
<text transform="translate(489.4,167.1) scale(0.95,1)" class="b" font-size="6.4" fill="#000" stroke="#000" stroke-width="0.15" text-anchor="middle">1642</text>
<text transform="translate(432.4,180.35) scale(0.92,1)" class="b" font-size="6.4" fill="#5cc82c" stroke="#5cc82c" stroke-width="0.15" text-anchor="middle">UPN37</text>
<text transform="translate(489.4,180.35) scale(0.95,1)" class="b" font-size="6.4" fill="#000" stroke="#000" stroke-width="0.15" text-anchor="middle">773</text>
<text transform="translate(432.4,193.6) scale(0.92,1)" class="b" font-size="6.4" fill="#1a1aa6" stroke="#1a1aa6" stroke-width="0.15" text-anchor="middle">UPN42</text>
<text transform="translate(489.4,193.6) scale(0.95,1)" class="b" font-size="6.4" fill="#000" stroke="#000" stroke-width="0.15" text-anchor="middle">828</text>
<text transform="translate(432.4,207.1) scale(0.92,1)" class="b" font-size="6.4" fill="#3cc8d8" stroke="#3cc8d8" stroke-width="0.15" text-anchor="middle">UPN29</text>
<text transform="translate(489.4,207.1) scale(0.95,1)" class="b" font-size="6.4" fill="#000" stroke="#000" stroke-width="0.15" text-anchor="middle">857</text>
<text transform="translate(432.4,220.6) scale(0.92,1)" class="b" font-size="6.4" fill="#9c5424" stroke="#9c5424" stroke-width="0.15" text-anchor="middle">UPN47</text>
<text transform="translate(489.4,220.6) scale(0.95,1)" class="b" font-size="6.4" fill="#000" stroke="#000" stroke-width="0.15" text-anchor="middle">791</text>
<text transform="translate(432.4,234.2) scale(0.92,1)" class="b" font-size="6.4" fill="#e01818" stroke="#e01818" stroke-width="0.15" text-anchor="middle">UPN36</text>
<text transform="translate(489.4,234.2) scale(0.95,1)" class="b" font-size="6.4" fill="#000" stroke="#000" stroke-width="0.15" text-anchor="middle">646</text>
<text transform="translate(432.4,247.8) scale(0.92,1)" class="b" font-size="6.4" fill="#e030e0" stroke="#e030e0" stroke-width="0.15" text-anchor="middle">UPN40</text>
<text transform="translate(489.4,247.8) scale(0.95,1)" class="b" font-size="6.4" fill="#000" stroke="#000" stroke-width="0.15" text-anchor="middle">473</text>
<text transform="translate(432.4,261.3) scale(0.92,1)" class="b" font-size="6.4" fill="#801818" stroke="#801818" stroke-width="0.15" text-anchor="middle">UPN34</text>
<text transform="translate(489.4,261.3) scale(0.95,1)" class="b" font-size="6.4" fill="#000" stroke="#000" stroke-width="0.15" text-anchor="middle">203</text>
<text transform="translate(432.4,274.8) scale(0.92,1)" class="b" font-size="6.4" fill="#1e8e1e" stroke="#1e8e1e" stroke-width="0.15" text-anchor="middle">UPN41</text>
<text transform="translate(489.4,274.8) scale(0.95,1)" class="b" font-size="6.4" fill="#000" stroke="#000" stroke-width="0.15" text-anchor="middle">151</text>
<text transform="translate(432.4,288.05) scale(0.92,1)" class="r" font-size="6.4" fill="#333" stroke="#333" stroke-width="0.35" text-anchor="middle">Lymphocytes</text>
<text transform="translate(489.4,288.05) scale(0.95,1)" class="b" font-size="6.4" fill="#000" stroke="#000" stroke-width="0.15" text-anchor="middle">74</text>
<line x1="405.5" y1="158.1" x2="519.3" y2="158.1" stroke="#151515" stroke-width="1.7"/>
<line x1="405.5" y1="171.5" x2="519.3" y2="171.5" stroke="#151515" stroke-width="1.7"/>
<line x1="405.5" y1="184.6" x2="519.3" y2="184.6" stroke="#151515" stroke-width="1.7"/>
<line x1="405.5" y1="198" x2="519.3" y2="198" stroke="#151515" stroke-width="1.7"/>
<line x1="405.5" y1="211.6" x2="519.3" y2="211.6" stroke="#151515" stroke-width="1.7"/>
<line x1="405.5" y1="225" x2="519.3" y2="225" stroke="#151515" stroke-width="1.7"/>
<line x1="405.5" y1="238.8" x2="519.3" y2="238.8" stroke="#151515" stroke-width="1.7"/>
<line x1="405.5" y1="252.2" x2="519.3" y2="252.2" stroke="#151515" stroke-width="1.7"/>
<line x1="405.5" y1="265.8" x2="519.3" y2="265.8" stroke="#151515" stroke-width="1.7"/>
<line x1="405.5" y1="279.2" x2="519.3" y2="279.2" stroke="#151515" stroke-width="1.7"/>
<path d="M405.5 144.8V292.3H519.3V119.2" fill="none" stroke="#111" stroke-width="1.4"/>
<text x="-0.4" y="273.7" class="r" font-size="12.2" fill="#000" stroke="#000" stroke-width="0.3">C</text>
<text x="16.7" y="275.6" class="b" font-size="9.7">Day 0 (post sort)</text>
<text x="146.7" y="275.8" class="b" font-size="9.7">Day 14 (post culture)</text>
<path d="M33 387.4 L33.8 387.42 L34.6 387.45 L35.4 387.47 L36.2 387.49 L37 387.51 L37.8 387.54 L38.6 387.56 L39.4 387.58 L40.2 387.58 L41 387.48 L41.8 387.38 L42.6 387.29 L43.4 387.19 L44.2 387.1 L45 387 L45.8 386.9 L46.6 386.81 L47.4 386.71 L48.2 386.62 L49 386.52 L49.8 386.42 L50.6 386.38 L51.4 386.34 L52.2 386.31 L53 386.28 L53.8 386.25 L54.6 386.22 L55.4 386.03 L56.2 385.7 L57 385.28 L57.8 384.87 L58.6 384.42 L59.4 384.23 L60.2 384.25 L61 384 L61.8 384.18 L62.6 384.08 L63.4 384.4 L64.2 383.47 L65 383.43 L65.8 383.95 L66.6 383.19 L67.4 381.45 L68.2 380.75 L69 377.7 L69.8 375.61 L70.6 373.95 L71.4 373.08 L72.2 371.03 L73 368.09 L73.8 366.43 L74.6 363.23 L75.4 360.43 L76.2 355.77 L77 350.55 L77.8 344.45 L78.6 342.96 L79.4 335.74 L80.2 334.02 L81 331.44 L81.8 327.9 L82.6 326.4 L83.4 325.45 L84.2 317.78 L85 310.81 L85.8 303.34 L86.6 294.93 L87.4 290.03 L88.2 302.28 L89 307.08 L89.8 313.25 L90.6 327.16 L91.4 341.99 L92.2 367.48 L93 384.57 L93.8 387.5 L94.6 387.5 L95.4 387.5 L96.2 387.5 L97 387.5 L97.8 387.5 L98.6 387.5 L99.4 387.5 L100.2 387.5 L101 387.5 L101.8 387.5 L102.6 387.5 L103.4 387.5 L104.2 387.5 L105 387.5 L105.8 387.5 L106.6 387.5 L107.4 387.5 L108.2 387.5 L109 387.5 L109.8 387.5 L110.6 387.5 L111.4 387.5 L112.2 387.5 L113 387.5 L113.8 387.5 L114.6 387.5 L115.4 387.5 L116.2 387.5 L117 387.5 L117.8 387.5 L118.6 387.5 L119.4 387.5 L120.2 387.5 L121 387.5 L121.8 387.5 L122.6 387.5 L123.4 387.5 L124.2 387.5 L125 387.5 L125.8 387.5 L126.6 387.5 L127.4 387.5 L128.2 387.5 L129 387.5 L129.8 387.5 L130.6 387.5 L131.4 387.5 L132.2 387.5 L133 387.5 L133.8 387.5 L134.5 388 L33 388Z" fill="#f4a3a3"/>
<path d="M93.4 387 L94.2 379.29 L95 359.97 L95.8 336.31 L96.6 302.47 L97.4 290.63 L98.2 291.81 L99 293.25 L99.8 293.14 L100.6 296.06 L101.4 300.02 L102.2 307.86 L103 315.01 L103.8 322.02 L104.6 330.03 L105.4 340.39 L106.2 349.69 L107 359.76 L107.8 368.9 L108.6 374.88 L109.4 381.47 L110.2 382.78 L111 385.2 L111.8 385.73 L112.6 386.27 L113.4 386.8 L114.2 386.88 L115 386.97 L115.8 387.05 L116.6 387.14 L117.4 387.22 L118.2 387.31 L119 387.39 L119.8 387.48 L120.6 387.5 L121.4 387.5 L122.2 387.5 L123 387.5 L123.8 387.5 L124.6 387.5 L125.4 387.5 L126.2 387.5 L127 387.5 L127.8 387.5 L128.6 387.5 L129.4 387.5 L130.2 387.5 L131 387.5 L131.8 387.5 L132.6 387.5 L133.4 387.5 L134.2 387.5 L93.4 388Z" fill="#a9a9f2"/>
<path d="M32 388L32 357.5L32.8 357.5L33.3 387.6" fill="#f4a3a3" stroke="#e3221e" stroke-width="1.5" stroke-linejoin="round"/>
<path d="M33 387.4 L33.8 387.42 L34.6 387.45 L35.4 387.47 L36.2 387.49 L37 387.51 L37.8 387.54 L38.6 387.56 L39.4 387.58 L40.2 387.58 L41 387.48 L41.8 387.38 L42.6 387.29 L43.4 387.19 L44.2 387.1 L45 387 L45.8 386.9 L46.6 386.81 L47.4 386.71 L48.2 386.62 L49 386.52 L49.8 386.42 L50.6 386.38 L51.4 386.34 L52.2 386.31 L53 386.28 L53.8 386.25 L54.6 386.22 L55.4 386.03 L56.2 385.7 L57 385.28 L57.8 384.87 L58.6 384.42 L59.4 384.23 L60.2 384.25 L61 384 L61.8 384.18 L62.6 384.08 L63.4 384.4 L64.2 383.47 L65 383.43 L65.8 383.95 L66.6 383.19 L67.4 381.45 L68.2 380.75 L69 377.7 L69.8 375.61 L70.6 373.95 L71.4 373.08 L72.2 371.03 L73 368.09 L73.8 366.43 L74.6 363.23 L75.4 360.43 L76.2 355.77 L77 350.55 L77.8 344.45 L78.6 342.96 L79.4 335.74 L80.2 334.02 L81 331.44 L81.8 327.9 L82.6 326.4 L83.4 325.45 L84.2 317.78 L85 310.81 L85.8 303.34 L86.6 294.93 L87.4 290.03 L88.2 302.28 L89 307.08 L89.8 313.25 L90.6 327.16 L91.4 341.99 L92.2 367.48 L93 384.57 L93.8 387.5 L94.6 387.5 L95.4 387.5 L96.2 387.5 L97 387.5 L97.8 387.5 L98.6 387.5 L99.4 387.5 L100.2 387.5 L101 387.5 L101.8 387.5 L102.6 387.5 L103.4 387.5 L104.2 387.5 L105 387.5 L105.8 387.5 L106.6 387.5 L107.4 387.5 L108.2 387.5 L109 387.5 L109.8 387.5 L110.6 387.5 L111.4 387.5 L112.2 387.5 L113 387.5 L113.8 387.5 L114.6 387.5 L115.4 387.5 L116.2 387.5 L117 387.5 L117.8 387.5 L118.6 387.5 L119.4 387.5 L120.2 387.5 L121 387.5 L121.8 387.5 L122.6 387.5 L123.4 387.5 L124.2 387.5 L125 387.5 L125.8 387.5 L126.6 387.5 L127.4 387.5 L128.2 387.5 L129 387.5 L129.8 387.5 L130.6 387.5 L131.4 387.5 L132.2 387.5 L133 387.5 L133.8 387.5" fill="none" stroke="#e3221e" stroke-width="1.6" stroke-linejoin="round"/>
<path d="M93.4 387 L94.2 379.29 L95 359.97 L95.8 336.31 L96.6 302.47 L97.4 290.63 L98.2 291.81 L99 293.25 L99.8 293.14 L100.6 296.06 L101.4 300.02 L102.2 307.86 L103 315.01 L103.8 322.02 L104.6 330.03 L105.4 340.39 L106.2 349.69 L107 359.76 L107.8 368.9 L108.6 374.88 L109.4 381.47 L110.2 382.78 L111 385.2 L111.8 385.73 L112.6 386.27 L113.4 386.8 L114.2 386.88 L115 386.97 L115.8 387.05 L116.6 387.14 L117.4 387.22 L118.2 387.31 L119 387.39 L119.8 387.48 L120.6 387.5 L121.4 387.5 L122.2 387.5 L123 387.5 L123.8 387.5 L124.6 387.5 L125.4 387.5 L126.2 387.5 L127 387.5 L127.8 387.5 L128.6 387.5 L129.4 387.5 L130.2 387.5 L131 387.5 L131.8 387.5 L132.6 387.5 L133.4 387.5 L134.2 387.5" fill="none" stroke="#1b1bd6" stroke-width="1.6" stroke-linejoin="round"/>
<path d="M32.3 387.7H93.6" fill="none" stroke="#1b1bd6" stroke-width="1.4"/>
<rect x="31.3" y="283.2" width="103.7" height="105.2" fill="none" stroke="#222" stroke-width="1"/>
<line x1="28.3" y1="388.4" x2="31.3" y2="388.4" stroke="#222" stroke-width="0.7"/>
<text x="27.3" y="390.8" class="r" font-size="6.3" fill="#111" stroke="#111" stroke-width="0.25" text-anchor="end">0</text>
<line x1="29.8" y1="383.37" x2="31.3" y2="383.37" stroke="#222" stroke-width="0.7"/>
<line x1="29.8" y1="378.34" x2="31.3" y2="378.34" stroke="#222" stroke-width="0.7"/>
<line x1="29.8" y1="373.31" x2="31.3" y2="373.31" stroke="#222" stroke-width="0.7"/>
<line x1="28.3" y1="368.28" x2="31.3" y2="368.28" stroke="#222" stroke-width="0.7"/>
<text x="27.3" y="370.68" class="r" font-size="6.3" fill="#111" stroke="#111" stroke-width="0.25" text-anchor="end">20</text>
<line x1="29.8" y1="363.25" x2="31.3" y2="363.25" stroke="#222" stroke-width="0.7"/>
<line x1="29.8" y1="358.22" x2="31.3" y2="358.22" stroke="#222" stroke-width="0.7"/>
<line x1="29.8" y1="353.19" x2="31.3" y2="353.19" stroke="#222" stroke-width="0.7"/>
<line x1="28.3" y1="348.16" x2="31.3" y2="348.16" stroke="#222" stroke-width="0.7"/>
<text x="27.3" y="350.56" class="r" font-size="6.3" fill="#111" stroke="#111" stroke-width="0.25" text-anchor="end">40</text>
<line x1="29.8" y1="343.13" x2="31.3" y2="343.13" stroke="#222" stroke-width="0.7"/>
<line x1="29.8" y1="338.1" x2="31.3" y2="338.1" stroke="#222" stroke-width="0.7"/>
<line x1="29.8" y1="333.07" x2="31.3" y2="333.07" stroke="#222" stroke-width="0.7"/>
<line x1="28.3" y1="328.04" x2="31.3" y2="328.04" stroke="#222" stroke-width="0.7"/>
<text x="27.3" y="330.44" class="r" font-size="6.3" fill="#111" stroke="#111" stroke-width="0.25" text-anchor="end">60</text>
<line x1="29.8" y1="323.01" x2="31.3" y2="323.01" stroke="#222" stroke-width="0.7"/>
<line x1="29.8" y1="317.98" x2="31.3" y2="317.98" stroke="#222" stroke-width="0.7"/>
<line x1="29.8" y1="312.95" x2="31.3" y2="312.95" stroke="#222" stroke-width="0.7"/>
<line x1="28.3" y1="307.92" x2="31.3" y2="307.92" stroke="#222" stroke-width="0.7"/>
<text x="27.3" y="310.32" class="r" font-size="6.3" fill="#111" stroke="#111" stroke-width="0.25" text-anchor="end">80</text>
<line x1="29.8" y1="302.89" x2="31.3" y2="302.89" stroke="#222" stroke-width="0.7"/>
<line x1="29.8" y1="297.86" x2="31.3" y2="297.86" stroke="#222" stroke-width="0.7"/>
<line x1="29.8" y1="292.83" x2="31.3" y2="292.83" stroke="#222" stroke-width="0.7"/>
<line x1="28.3" y1="287.8" x2="31.3" y2="287.8" stroke="#222" stroke-width="0.7"/>
<text x="27.3" y="290.2" class="r" font-size="6.3" fill="#111" stroke="#111" stroke-width="0.25" text-anchor="end">100</text>
<line x1="32.8" y1="388.4" x2="32.8" y2="389.7" stroke="#222" stroke-width="0.6"/>
<line x1="35.14" y1="388.4" x2="35.14" y2="389.7" stroke="#222" stroke-width="0.6"/>
<line x1="37.48" y1="388.4" x2="37.48" y2="389.7" stroke="#222" stroke-width="0.6"/>
<line x1="39.83" y1="388.4" x2="39.83" y2="389.7" stroke="#222" stroke-width="0.6"/>
<line x1="42.17" y1="388.4" x2="42.17" y2="389.7" stroke="#222" stroke-width="0.6"/>
<line x1="44.51" y1="388.4" x2="44.51" y2="389.7" stroke="#222" stroke-width="0.6"/>
<line x1="46.85" y1="388.4" x2="46.85" y2="389.7" stroke="#222" stroke-width="0.6"/>
<line x1="49.19" y1="388.4" x2="49.19" y2="389.7" stroke="#222" stroke-width="0.6"/>
<line x1="51.53" y1="388.4" x2="51.53" y2="389.7" stroke="#222" stroke-width="0.6"/>
<line x1="53.88" y1="388.4" x2="53.88" y2="389.7" stroke="#222" stroke-width="0.6"/>
<line x1="56.22" y1="388.4" x2="56.22" y2="389.7" stroke="#222" stroke-width="0.6"/>
<line x1="58.56" y1="388.4" x2="58.56" y2="389.7" stroke="#222" stroke-width="0.6"/>
<line x1="60.9" y1="388.4" x2="60.9" y2="389.7" stroke="#222" stroke-width="0.6"/>
<line x1="63.24" y1="388.4" x2="63.24" y2="389.7" stroke="#222" stroke-width="0.6"/>
<line x1="65.59" y1="388.4" x2="65.59" y2="389.7" stroke="#222" stroke-width="0.6"/>
<line x1="67.93" y1="388.4" x2="67.93" y2="389.7" stroke="#222" stroke-width="0.6"/>
<line x1="70.27" y1="388.4" x2="70.27" y2="389.7" stroke="#222" stroke-width="0.6"/>
<line x1="72.61" y1="388.4" x2="72.61" y2="389.7" stroke="#222" stroke-width="0.6"/>
<line x1="74.95" y1="388.4" x2="74.95" y2="389.7" stroke="#222" stroke-width="0.6"/>
<line x1="77.3" y1="388.4" x2="77.3" y2="389.7" stroke="#222" stroke-width="0.6"/>
<line x1="79.64" y1="388.4" x2="79.64" y2="389.7" stroke="#222" stroke-width="0.6"/>
<line x1="81.98" y1="388.4" x2="81.98" y2="389.7" stroke="#222" stroke-width="0.6"/>
<line x1="84.32" y1="388.4" x2="84.32" y2="389.7" stroke="#222" stroke-width="0.6"/>
<line x1="86.66" y1="388.4" x2="86.66" y2="389.7" stroke="#222" stroke-width="0.6"/>
<line x1="89" y1="388.4" x2="89" y2="389.7" stroke="#222" stroke-width="0.6"/>
<line x1="91.35" y1="388.4" x2="91.35" y2="389.7" stroke="#222" stroke-width="0.6"/>
<line x1="93.69" y1="388.4" x2="93.69" y2="389.7" stroke="#222" stroke-width="0.6"/>
<line x1="96.03" y1="388.4" x2="96.03" y2="389.7" stroke="#222" stroke-width="0.6"/>
<line x1="98.37" y1="388.4" x2="98.37" y2="389.7" stroke="#222" stroke-width="0.6"/>
<line x1="100.71" y1="388.4" x2="100.71" y2="389.7" stroke="#222" stroke-width="0.6"/>
<line x1="103.06" y1="388.4" x2="103.06" y2="389.7" stroke="#222" stroke-width="0.6"/>
<line x1="105.4" y1="388.4" x2="105.4" y2="389.7" stroke="#222" stroke-width="0.6"/>
<line x1="107.74" y1="388.4" x2="107.74" y2="389.7" stroke="#222" stroke-width="0.6"/>
<line x1="110.08" y1="388.4" x2="110.08" y2="389.7" stroke="#222" stroke-width="0.6"/>
<line x1="112.42" y1="388.4" x2="112.42" y2="389.7" stroke="#222" stroke-width="0.6"/>
<line x1="114.77" y1="388.4" x2="114.77" y2="389.7" stroke="#222" stroke-width="0.6"/>
<line x1="117.11" y1="388.4" x2="117.11" y2="389.7" stroke="#222" stroke-width="0.6"/>
<line x1="119.45" y1="388.4" x2="119.45" y2="389.7" stroke="#222" stroke-width="0.6"/>
<line x1="121.79" y1="388.4" x2="121.79" y2="389.7" stroke="#222" stroke-width="0.6"/>
<line x1="124.13" y1="388.4" x2="124.13" y2="389.7" stroke="#222" stroke-width="0.6"/>
<line x1="126.47" y1="388.4" x2="126.47" y2="389.7" stroke="#222" stroke-width="0.6"/>
<line x1="128.82" y1="388.4" x2="128.82" y2="389.7" stroke="#222" stroke-width="0.6"/>
<line x1="131.16" y1="388.4" x2="131.16" y2="389.7" stroke="#222" stroke-width="0.6"/>
<line x1="133.5" y1="388.4" x2="133.5" y2="389.7" stroke="#222" stroke-width="0.6"/>
<line x1="41" y1="388.4" x2="41" y2="390.8" stroke="#222" stroke-width="0.8"/>
<text x="37" y="399.4" class="r" font-size="7" fill="#111" stroke="#111" stroke-width="0.15">10<tspan font-size="5" dy="-3.3">1</tspan></text>
<line x1="61" y1="388.4" x2="61" y2="390.8" stroke="#222" stroke-width="0.8"/>
<text x="57" y="399.4" class="r" font-size="7" fill="#111" stroke="#111" stroke-width="0.15">10<tspan font-size="5" dy="-3.3">2</tspan></text>
<line x1="82" y1="388.4" x2="82" y2="390.8" stroke="#222" stroke-width="0.8"/>
<text x="78" y="399.4" class="r" font-size="7" fill="#111" stroke="#111" stroke-width="0.15">10<tspan font-size="5" dy="-3.3">3</tspan></text>
<line x1="102.5" y1="388.4" x2="102.5" y2="390.8" stroke="#222" stroke-width="0.8"/>
<text x="98.5" y="399.4" class="r" font-size="7" fill="#111" stroke="#111" stroke-width="0.15">10<tspan font-size="5" dy="-3.3">4</tspan></text>
<line x1="124" y1="388.4" x2="124" y2="390.8" stroke="#222" stroke-width="0.8"/>
<text x="120" y="399.4" class="r" font-size="7" fill="#111" stroke="#111" stroke-width="0.15">10<tspan font-size="5" dy="-3.3">5</tspan></text>
<text x="61.5" y="305.7" class="b" font-size="9.5">1006</text>
<text x="104.9" y="305.7" class="b" font-size="9.5">6081</text>
<text x="29.9" y="411.1" class="b" font-size="9.5">CD123</text>
<line x1="62.6" y1="408.3" x2="88" y2="408.3" stroke="#000" stroke-width="1"/>
<path d="M92 408.3L85.5 405.9L85.5 410.7Z" fill="#000"/>
<path d="M166.5 387.5 L167.3 387.48 L168.1 387.46 L168.9 387.44 L169.7 387.42 L170.5 387.41 L171.3 387.39 L172.1 387.37 L172.9 387.35 L173.7 387.33 L174.5 387.31 L175.3 387.29 L176.1 387.26 L176.9 387.24 L177.7 387.21 L178.5 387.18 L179.3 387.16 L180.1 387.13 L180.9 387.1 L181.7 387.08 L182.5 387.05 L183.3 387.02 L184.1 387 L184.9 386.97 L185.7 386.94 L186.5 386.92 L187.3 386.89 L188.1 386.86 L188.9 386.84 L189.7 386.81 L190.5 386.67 L191.3 386.47 L192.1 386.26 L192.9 386.05 L193.7 385.87 L194.5 385.68 L195.3 385.39 L196.1 385.24 L196.9 384.93 L197.7 384.58 L198.5 384.44 L199.3 384.36 L200.1 383.82 L200.9 383.83 L201.7 383 L202.5 382.97 L203.3 382.66 L204.1 382.36 L204.9 382.35 L205.7 380.83 L206.5 378.78 L207.3 376.86 L208.1 375.58 L208.9 374.19 L209.7 372.38 L210.5 370.39 L211.3 368.69 L212.1 367.99 L212.9 365.1 L213.7 362.1 L214.5 359.84 L215.3 357.2 L216.1 354.25 L216.9 351.5 L217.7 349.46 L218.5 345.84 L219.3 342.07 L220.1 337.9 L220.9 333.6 L221.7 329.32 L222.5 324.86 L223.3 319.96 L224.1 315.43 L224.9 310.68 L225.7 306.55 L226.5 302.14 L227.3 297.11 L228.1 294.21 L228.9 290.98 L229.7 289.07 L230.5 288.66 L231.3 291.47 L232.1 295.06 L232.9 299.34 L233.7 304.63 L234.5 308.98 L235.3 315.79 L236.1 323.84 L236.9 332.19 L237.7 340.78 L238.5 350.63 L239.3 359.42 L240.1 369.73 L240.9 374.72 L241.7 380.49 L242.5 382.68 L243.3 385.25 L244.1 386.21 L244.9 386.38 L245.7 386.56 L246.5 386.73 L247.3 386.91 L248.1 387.08 L248.9 387.26 L249.7 387.43 L250.5 387.5 L251.3 387.51 L252.1 387.51 L252.9 387.51 L253.7 387.52 L254.5 387.52 L255.3 387.53 L256.1 387.53 L256.9 387.53 L257.7 387.54 L258.5 387.54 L259.3 387.55 L260.1 387.55 L260.9 387.55 L261.7 387.56 L262.5 387.56 L263.3 387.57 L264.1 387.57 L264.9 387.57 L265.7 387.58 L266.5 387.58 L267.3 387.59 L268.1 387.59 L268.9 387.59 L269.7 387.6 L270 388.2 L166.5 388.2Z" fill="#f4a3a3"/>
<path d="M166.5 387.5 L167.3 387.48 L168.1 387.46 L168.9 387.44 L169.7 387.42 L170.5 387.41 L171.3 387.39 L172.1 387.37 L172.9 387.35 L173.7 387.33 L174.5 387.31 L175.3 387.29 L176.1 387.26 L176.9 387.24 L177.7 387.21 L178.5 387.18 L179.3 387.16 L180.1 387.13 L180.9 387.1 L181.7 387.08 L182.5 387.05 L183.3 387.02 L184.1 387 L184.9 386.97 L185.7 386.94 L186.5 386.92 L187.3 386.89 L188.1 386.86 L188.9 386.84 L189.7 386.81 L190.5 386.67 L191.3 386.47 L192.1 386.26 L192.9 386.05 L193.7 385.87 L194.5 385.68 L195.3 385.39 L196.1 385.24 L196.9 384.93 L197.7 384.58 L198.5 384.44 L199.3 384.36 L200.1 383.82 L200.9 383.83 L201.7 383 L202.5 382.97 L203.3 382.66 L204.1 382.36 L204.9 382.35 L205.7 380.83 L206.5 378.78 L207.3 376.86 L208.1 375.58 L208.9 374.19 L209.7 372.38 L210.5 370.39 L211.3 368.69 L212.1 367.99 L212.9 365.1 L213.7 362.1 L214.5 359.84 L215.3 357.2 L216.1 354.25 L216.9 351.5 L217.7 349.46 L218.5 345.84 L219.3 342.07 L220.1 337.9 L220.9 333.6 L221.7 329.32 L222.5 324.86 L223.3 319.96 L224.1 315.43 L224.9 310.68 L225.7 306.55 L226.5 302.14 L227.3 297.11 L228.1 294.21 L228.9 290.98 L229.7 289.07 L230.5 288.66 L231.3 291.47 L232.1 295.06 L232.9 299.34 L233.7 304.63 L234.5 308.98 L235.3 315.79 L236.1 323.84 L236.9 332.19 L237.7 340.78 L238.5 350.63 L239.3 359.42 L240.1 369.73 L240.9 374.72 L241.7 380.49 L242.5 382.68 L243.3 385.25 L244.1 386.21 L244.9 386.38 L245.7 386.56 L246.5 386.73 L247.3 386.91 L248.1 387.08 L248.9 387.26 L249.7 387.43 L250.5 387.5 L251.3 387.51 L252.1 387.51 L252.9 387.51 L253.7 387.52 L254.5 387.52 L255.3 387.53 L256.1 387.53 L256.9 387.53 L257.7 387.54 L258.5 387.54 L259.3 387.55 L260.1 387.55 L260.9 387.55 L261.7 387.56 L262.5 387.56 L263.3 387.57 L264.1 387.57 L264.9 387.57 L265.7 387.58 L266.5 387.58 L267.3 387.59 L268.1 387.59 L268.9 387.59 L269.7 387.6" fill="none" stroke="#e3221e" stroke-width="1.5" stroke-linejoin="round"/>
<path d="M166.2 336.11 L167 336.04 L167.8 387.4 L168.6 387.48 L169.4 387.55 L170.2 387.63 L171 387.7 L171.8 387.78 L172.6 387.65 L173.4 387.45 L174.2 387.25 L175 387.05 L175.8 386.85 L176.6 386.92 L177.4 387.08 L178.2 387.24 L179 387.4 L179.8 387.56 L180.6 387.55 L181.4 387.49 L182.2 387.42 L183 387.36 L183.8 387.3 L184.6 387.23 L185.4 387.2 L186.2 387.2 L187 387.2 L187.8 387.2 L188.6 387.2 L189.4 387.2 L190.2 387.15 L191 386.95 L191.8 386.75 L192.6 386.55 L193.4 386.36 L194.2 386.07 L195 385.33 L195.8 384.54 L196.6 383.81 L197.4 383.42 L198.2 383.5 L199 383.77 L199.8 383.86 L200.6 383.45 L201.4 382.31 L202.2 381.24 L203 380.4 L203.8 379.16 L204.6 378.3 L205.4 377.02 L206.2 375.88 L207 374.78 L207.8 372.84 L208.6 372.02 L209.4 370.75 L210.2 369.48 L211 365.73 L211.8 363.48 L212.6 361.48 L213.4 359.96 L214.2 355.36 L215 356.41 L215.8 357.16 L216.6 353.95 L217.4 350.41 L218.2 345.32 L219 343.72 L219.8 343.04 L220.6 338.46 L221.4 332.03 L222.2 322.51 L223 322.89 L223.8 321.71 L224.6 315.89 L225.4 308.5 L226.2 302.1 L227 295.05 L227.8 290.42 L228.6 290.62 L229.4 293.63 L230.2 292.54 L231 298.73 L231.8 309.03 L232.6 319.92 L233.4 330.15 L234.2 340.87 L235 349.83 L235.8 358.74 L236.6 366.71 L237.4 371.76 L238.2 375.98 L239 378.84 L239.8 381.25 L240.6 383.68 L241.4 384.23 L242.2 385.11 L243 385.96 L243.8 386.27 L244.6 386.49 L245.4 386.7 L246.2 386.91 L247 387.11 L247.8 387.32 L248.6 387.4 L249.4 387.41 L250.2 387.42 L251 387.43 L251.8 387.43 L252.6 387.44 L253.4 387.45 L254.2 387.46 L255 387.46 L255.8 387.47 L256.6 387.48 L257.4 387.48 L258.2 387.49 L259 387.5 L259.8 387.51 L260.6 387.51 L261.4 387.52 L262.2 387.53 L263 387.54 L263.8 387.54 L264.6 387.55 L265.4 387.56 L266.2 387.57 L267 387.57 L267.8 387.58 L268.6 387.59 L269.4 387.59 L270 388.2 L166.2 388.2Z" fill="#a9a9f2"/>
<path d="M166.2 336.11 L167 336.04 L167.8 387.4 L168.6 387.48 L169.4 387.55 L170.2 387.63 L171 387.7 L171.8 387.78 L172.6 387.65 L173.4 387.45 L174.2 387.25 L175 387.05 L175.8 386.85 L176.6 386.92 L177.4 387.08 L178.2 387.24 L179 387.4 L179.8 387.56 L180.6 387.55 L181.4 387.49 L182.2 387.42 L183 387.36 L183.8 387.3 L184.6 387.23 L185.4 387.2 L186.2 387.2 L187 387.2 L187.8 387.2 L188.6 387.2 L189.4 387.2 L190.2 387.15 L191 386.95 L191.8 386.75 L192.6 386.55 L193.4 386.36 L194.2 386.07 L195 385.33 L195.8 384.54 L196.6 383.81 L197.4 383.42 L198.2 383.5 L199 383.77 L199.8 383.86 L200.6 383.45 L201.4 382.31 L202.2 381.24 L203 380.4 L203.8 379.16 L204.6 378.3 L205.4 377.02 L206.2 375.88 L207 374.78 L207.8 372.84 L208.6 372.02 L209.4 370.75 L210.2 369.48 L211 365.73 L211.8 363.48 L212.6 361.48 L213.4 359.96 L214.2 355.36 L215 356.41 L215.8 357.16 L216.6 353.95 L217.4 350.41 L218.2 345.32 L219 343.72 L219.8 343.04 L220.6 338.46 L221.4 332.03 L222.2 322.51 L223 322.89 L223.8 321.71 L224.6 315.89 L225.4 308.5 L226.2 302.1 L227 295.05 L227.8 290.42 L228.6 290.62 L229.4 293.63 L230.2 292.54 L231 298.73 L231.8 309.03 L232.6 319.92 L233.4 330.15 L234.2 340.87 L235 349.83 L235.8 358.74 L236.6 366.71 L237.4 371.76 L238.2 375.98 L239 378.84 L239.8 381.25 L240.6 383.68 L241.4 384.23 L242.2 385.11 L243 385.96 L243.8 386.27 L244.6 386.49 L245.4 386.7 L246.2 386.91 L247 387.11 L247.8 387.32 L248.6 387.4 L249.4 387.41 L250.2 387.42 L251 387.43 L251.8 387.43 L252.6 387.44 L253.4 387.45 L254.2 387.46 L255 387.46 L255.8 387.47 L256.6 387.48 L257.4 387.48 L258.2 387.49 L259 387.5 L259.8 387.51 L260.6 387.51 L261.4 387.52 L262.2 387.53 L263 387.54 L263.8 387.54 L264.6 387.55 L265.4 387.56 L266.2 387.57 L267 387.57 L267.8 387.58 L268.6 387.59 L269.4 387.59" fill="none" stroke="#1b1bd6" stroke-width="1.5" stroke-linejoin="round"/>
<rect x="165.6" y="283.4" width="104.9" height="105.2" fill="none" stroke="#222" stroke-width="1"/>
<line x1="162.6" y1="388.6" x2="165.6" y2="388.6" stroke="#222" stroke-width="0.7"/>
<text x="161.3" y="391" class="r" font-size="6.3" fill="#111" stroke="#111" stroke-width="0.25" text-anchor="end">0</text>
<line x1="164.1" y1="383.57" x2="165.6" y2="383.57" stroke="#222" stroke-width="0.7"/>
<line x1="164.1" y1="378.54" x2="165.6" y2="378.54" stroke="#222" stroke-width="0.7"/>
<line x1="164.1" y1="373.51" x2="165.6" y2="373.51" stroke="#222" stroke-width="0.7"/>
<line x1="162.6" y1="368.48" x2="165.6" y2="368.48" stroke="#222" stroke-width="0.7"/>
<text x="161.3" y="370.88" class="r" font-size="6.3" fill="#111" stroke="#111" stroke-width="0.25" text-anchor="end">20</text>
<line x1="164.1" y1="363.45" x2="165.6" y2="363.45" stroke="#222" stroke-width="0.7"/>
<line x1="164.1" y1="358.42" x2="165.6" y2="358.42" stroke="#222" stroke-width="0.7"/>
<line x1="164.1" y1="353.39" x2="165.6" y2="353.39" stroke="#222" stroke-width="0.7"/>
<line x1="162.6" y1="348.36" x2="165.6" y2="348.36" stroke="#222" stroke-width="0.7"/>
<text x="161.3" y="350.76" class="r" font-size="6.3" fill="#111" stroke="#111" stroke-width="0.25" text-anchor="end">40</text>
<line x1="164.1" y1="343.33" x2="165.6" y2="343.33" stroke="#222" stroke-width="0.7"/>
<line x1="164.1" y1="338.3" x2="165.6" y2="338.3" stroke="#222" stroke-width="0.7"/>
<line x1="164.1" y1="333.27" x2="165.6" y2="333.27" stroke="#222" stroke-width="0.7"/>
<line x1="162.6" y1="328.24" x2="165.6" y2="328.24" stroke="#222" stroke-width="0.7"/>
<text x="161.3" y="330.64" class="r" font-size="6.3" fill="#111" stroke="#111" stroke-width="0.25" text-anchor="end">60</text>
<line x1="164.1" y1="323.21" x2="165.6" y2="323.21" stroke="#222" stroke-width="0.7"/>
<line x1="164.1" y1="318.18" x2="165.6" y2="318.18" stroke="#222" stroke-width="0.7"/>
<line x1="164.1" y1="313.15" x2="165.6" y2="313.15" stroke="#222" stroke-width="0.7"/>
<line x1="162.6" y1="308.12" x2="165.6" y2="308.12" stroke="#222" stroke-width="0.7"/>
<text x="161.3" y="310.52" class="r" font-size="6.3" fill="#111" stroke="#111" stroke-width="0.25" text-anchor="end">80</text>
<line x1="164.1" y1="303.09" x2="165.6" y2="303.09" stroke="#222" stroke-width="0.7"/>
<line x1="164.1" y1="298.06" x2="165.6" y2="298.06" stroke="#222" stroke-width="0.7"/>
<line x1="164.1" y1="293.03" x2="165.6" y2="293.03" stroke="#222" stroke-width="0.7"/>
<line x1="162.6" y1="288" x2="165.6" y2="288" stroke="#222" stroke-width="0.7"/>
<text x="161.3" y="290.4" class="r" font-size="6.3" fill="#111" stroke="#111" stroke-width="0.25" text-anchor="end">100</text>
<line x1="167.1" y1="388.6" x2="167.1" y2="389.9" stroke="#222" stroke-width="0.6"/>
<line x1="169.47" y1="388.6" x2="169.47" y2="389.9" stroke="#222" stroke-width="0.6"/>
<line x1="171.84" y1="388.6" x2="171.84" y2="389.9" stroke="#222" stroke-width="0.6"/>
<line x1="174.21" y1="388.6" x2="174.21" y2="389.9" stroke="#222" stroke-width="0.6"/>
<line x1="176.58" y1="388.6" x2="176.58" y2="389.9" stroke="#222" stroke-width="0.6"/>
<line x1="178.95" y1="388.6" x2="178.95" y2="389.9" stroke="#222" stroke-width="0.6"/>
<line x1="181.32" y1="388.6" x2="181.32" y2="389.9" stroke="#222" stroke-width="0.6"/>
<line x1="183.69" y1="388.6" x2="183.69" y2="389.9" stroke="#222" stroke-width="0.6"/>
<line x1="186.06" y1="388.6" x2="186.06" y2="389.9" stroke="#222" stroke-width="0.6"/>
<line x1="188.43" y1="388.6" x2="188.43" y2="389.9" stroke="#222" stroke-width="0.6"/>
<line x1="190.8" y1="388.6" x2="190.8" y2="389.9" stroke="#222" stroke-width="0.6"/>
<line x1="193.17" y1="388.6" x2="193.17" y2="389.9" stroke="#222" stroke-width="0.6"/>
<line x1="195.54" y1="388.6" x2="195.54" y2="389.9" stroke="#222" stroke-width="0.6"/>
<line x1="197.91" y1="388.6" x2="197.91" y2="389.9" stroke="#222" stroke-width="0.6"/>
<line x1="200.28" y1="388.6" x2="200.28" y2="389.9" stroke="#222" stroke-width="0.6"/>
<line x1="202.65" y1="388.6" x2="202.65" y2="389.9" stroke="#222" stroke-width="0.6"/>
<line x1="205.02" y1="388.6" x2="205.02" y2="389.9" stroke="#222" stroke-width="0.6"/>
<line x1="207.39" y1="388.6" x2="207.39" y2="389.9" stroke="#222" stroke-width="0.6"/>
<line x1="209.76" y1="388.6" x2="209.76" y2="389.9" stroke="#222" stroke-width="0.6"/>
<line x1="212.13" y1="388.6" x2="212.13" y2="389.9" stroke="#222" stroke-width="0.6"/>
<line x1="214.5" y1="388.6" x2="214.5" y2="389.9" stroke="#222" stroke-width="0.6"/>
<line x1="216.87" y1="388.6" x2="216.87" y2="389.9" stroke="#222" stroke-width="0.6"/>
<line x1="219.23" y1="388.6" x2="219.23" y2="389.9" stroke="#222" stroke-width="0.6"/>
<line x1="221.6" y1="388.6" x2="221.6" y2="389.9" stroke="#222" stroke-width="0.6"/>
<line x1="223.97" y1="388.6" x2="223.97" y2="389.9" stroke="#222" stroke-width="0.6"/>
<line x1="226.34" y1="388.6" x2="226.34" y2="389.9" stroke="#222" stroke-width="0.6"/>
<line x1="228.71" y1="388.6" x2="228.71" y2="389.9" stroke="#222" stroke-width="0.6"/>
<line x1="231.08" y1="388.6" x2="231.08" y2="389.9" stroke="#222" stroke-width="0.6"/>
<line x1="233.45" y1="388.6" x2="233.45" y2="389.9" stroke="#222" stroke-width="0.6"/>
<line x1="235.82" y1="388.6" x2="235.82" y2="389.9" stroke="#222" stroke-width="0.6"/>
<line x1="238.19" y1="388.6" x2="238.19" y2="389.9" stroke="#222" stroke-width="0.6"/>
<line x1="240.56" y1="388.6" x2="240.56" y2="389.9" stroke="#222" stroke-width="0.6"/>
<line x1="242.93" y1="388.6" x2="242.93" y2="389.9" stroke="#222" stroke-width="0.6"/>
<line x1="245.3" y1="388.6" x2="245.3" y2="389.9" stroke="#222" stroke-width="0.6"/>
<line x1="247.67" y1="388.6" x2="247.67" y2="389.9" stroke="#222" stroke-width="0.6"/>
<line x1="250.04" y1="388.6" x2="250.04" y2="389.9" stroke="#222" stroke-width="0.6"/>
<line x1="252.41" y1="388.6" x2="252.41" y2="389.9" stroke="#222" stroke-width="0.6"/>
<line x1="254.78" y1="388.6" x2="254.78" y2="389.9" stroke="#222" stroke-width="0.6"/>
<line x1="257.15" y1="388.6" x2="257.15" y2="389.9" stroke="#222" stroke-width="0.6"/>
<line x1="259.52" y1="388.6" x2="259.52" y2="389.9" stroke="#222" stroke-width="0.6"/>
<line x1="261.89" y1="388.6" x2="261.89" y2="389.9" stroke="#222" stroke-width="0.6"/>
<line x1="264.26" y1="388.6" x2="264.26" y2="389.9" stroke="#222" stroke-width="0.6"/>
<line x1="266.63" y1="388.6" x2="266.63" y2="389.9" stroke="#222" stroke-width="0.6"/>
<line x1="269" y1="388.6" x2="269" y2="389.9" stroke="#222" stroke-width="0.6"/>
<line x1="176.1" y1="388.6" x2="176.1" y2="391" stroke="#222" stroke-width="0.8"/>
<text x="176.1" y="399.4" class="r" font-size="7" fill="#111" stroke="#111" stroke-width="0.15" text-anchor="middle">0</text>
<line x1="194.2" y1="388.6" x2="194.2" y2="391" stroke="#222" stroke-width="0.8"/>
<text x="190.2" y="399.4" class="r" font-size="7" fill="#111" stroke="#111" stroke-width="0.15">10<tspan font-size="5" dy="-3.3">2</tspan></text>
<line x1="216.5" y1="388.6" x2="216.5" y2="391" stroke="#222" stroke-width="0.8"/>
<text x="212.5" y="399.4" class="r" font-size="7" fill="#111" stroke="#111" stroke-width="0.15">10<tspan font-size="5" dy="-3.3">3</tspan></text>
<line x1="238.5" y1="388.6" x2="238.5" y2="391" stroke="#222" stroke-width="0.8"/>
<text x="234.5" y="399.4" class="r" font-size="7" fill="#111" stroke="#111" stroke-width="0.15">10<tspan font-size="5" dy="-3.3">4</tspan></text>
<line x1="260" y1="388.6" x2="260" y2="391" stroke="#222" stroke-width="0.8"/>
<text x="256" y="399.4" class="r" font-size="7" fill="#111" stroke="#111" stroke-width="0.15">10<tspan font-size="5" dy="-3.3">5</tspan></text>
<text x="197.2" y="305.8" class="b" font-size="9.5">2433</text>
<text x="238.3" y="305.8" class="b" font-size="9.5">3562</text>
<text x="163.4" y="411.1" class="b" font-size="9.5">CD123</text>
<line x1="196" y1="408.5" x2="221.5" y2="408.5" stroke="#000" stroke-width="1"/>
<path d="M225.5 408.5L219 406.1L219 410.9Z" fill="#000"/>
<rect x="96.3" y="415.8" width="20.2" height="26.6" fill="#fff" stroke="#555" stroke-width="1"/>
<rect x="99" y="426.2" width="6" height="6.3" fill="#1212e6"/>
<rect x="106.2" y="426.2" width="6.3" height="6.3" fill="#000"/>
<rect x="107.5" y="427.3" width="4.2" height="1.7" fill="#fff"/>
<rect x="99" y="434" width="6" height="6.3" fill="#e01010"/>
<rect x="106.2" y="434" width="6.3" height="6.3" fill="#000"/>
<rect x="107.5" y="435.1" width="4.2" height="1.7" fill="#fff"/>
<text x="117.1" y="432.3" class="b" font-size="7.2">CD123+ sorted population</text>
<text x="117.1" y="440.1" class="b" font-size="7.2">CD123- sorted population</text>
</svg>
</body></html>
